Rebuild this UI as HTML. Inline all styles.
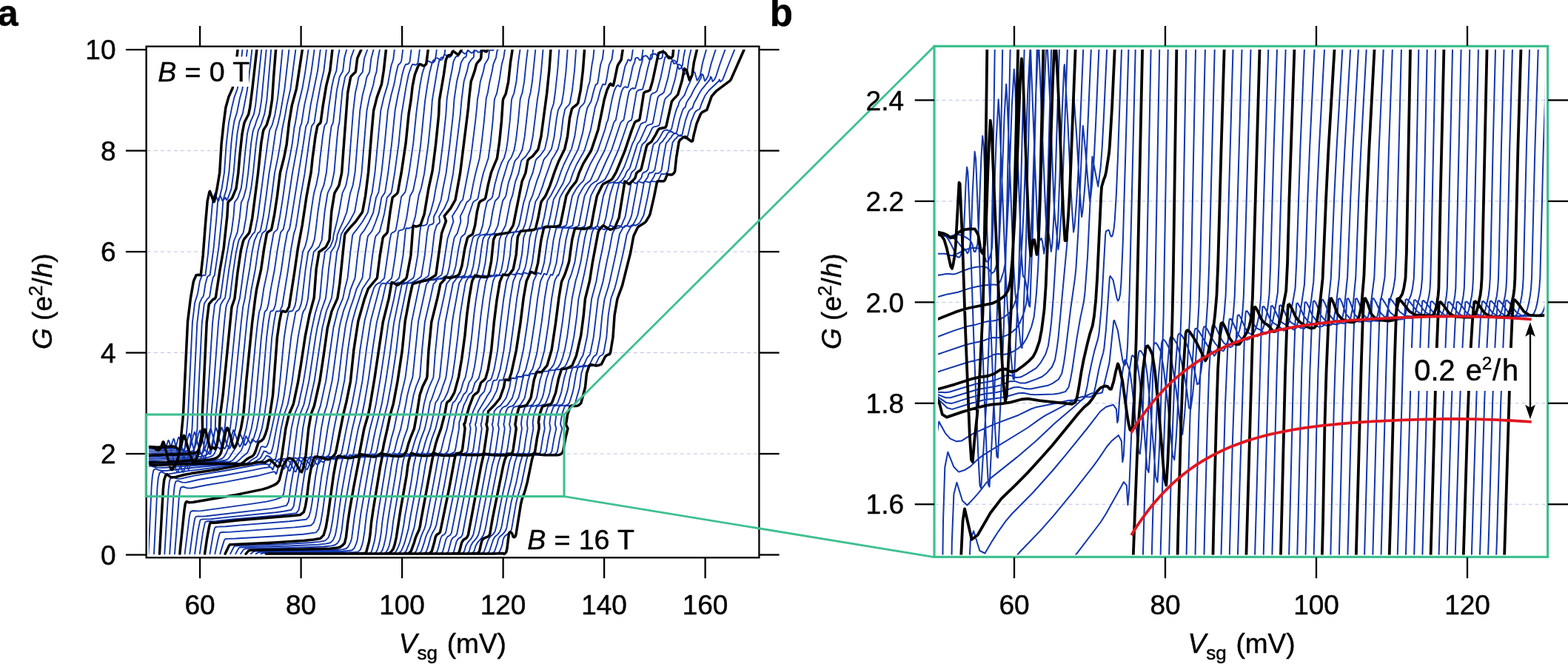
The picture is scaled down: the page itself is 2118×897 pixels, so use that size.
<!DOCTYPE html>
<html lang="en">
<head>
<meta charset="utf-8">
<title>Conductance G versus split-gate voltage Vsg</title>
<style>html,body{margin:0;padding:0;background:#fff;overflow:hidden}svg{display:block}</style>
</head>
<body>
<svg width="2118" height="897" viewBox="0 0 2118 897" font-family='"Liberation Sans", Arial, Helvetica, sans-serif' font-size="37.0" fill="#000">
<style>text{stroke:#000;stroke-width:0.45px;stroke-linejoin:round}</style>
<rect x="0" y="0" width="2118" height="897" fill="#fff"/>
<defs>
<clipPath id="ca"><rect x="200.85" y="67.10" width="821.00" height="683.90"/></clipPath>
<clipPath id="cb"><rect x="1267.00" y="67.10" width="819.20" height="682.40"/></clipPath>
</defs>
<g stroke="#b9c2e6" stroke-width="1" stroke-dasharray="5 4" fill="none">
<line x1="198.8" x2="1024" y1="613.02" y2="613.02"/>
<line x1="198.8" x2="1024" y1="476.54" y2="476.54"/>
<line x1="198.8" x2="1024" y1="340.06" y2="340.06"/>
<line x1="198.8" x2="1024" y1="203.58" y2="203.58"/>
</g>
<g clip-path="url(#ca)" fill="none" stroke-linejoin="round" stroke-linecap="round">
<path stroke="#1236ad" stroke-width="1.9" d="M191.6 603.5L208.1 604.1L212.5 605L218.1 606.8L221.8 606.7L223.8 605.2L227.3 594.8L228.2 595.4L229.4 599.5L233.6 618.5L237.4 633.4L239 637.8L240.1 638.1L245.2 626L246.9 619.7L249.2 608.1L250.9 595.2L252.5 578.9L254 559.7L259.9 435.6L263.2 408.6L266.9 397.2L269.9 379.8L272.6 372.8L274.6 371.9L277.4 371.8L281 343L287.1 272.7L288.3 266.6L290.5 261.2L294.5 271.9L295.5 271.1L299.6 254.5L303 232.9L305.7 194.4L309.1 165.5L313.4 144.1L316.4 131.6L320.7 120L323.3 105.6L327.9 63M191.6 603.5L212.5 604.1L218.2 604.7L227.8 606.4L228.9 606.2L230.3 605.2L231.3 603L232.5 598.2L234.4 592.7L235.3 593.7L243.6 627.8L246.6 637.6L247.7 637.9L252.1 625.2L255.6 609.2L257.7 594.5L259.5 578.9L266.3 436.4L269.3 411.7L269.6 409.3L272.7 402.7L274.3 400.8L275.1 398.6L277.5 383.3L280.1 374L281.6 372.6L283.6 371.7L288.7 334L292.8 290.2L294 273.7L294.9 268.9L297.6 264L300.3 271.1L301.4 270L305.8 256.1L309.4 232.5L312.3 194.6L313.8 180.4L315.6 168.6L316.4 163.9L320 152.3L324 132.4L327.3 120.8L329.6 106.7L334.4 63M191.6 603.5L204.4 603.7L210.9 604.2L217.9 603.9L224.2 604.1L230.8 604.7L232.3 605.2L233.8 606.2L235.1 606.2L236.8 605.2L238 602.5L240.3 593.3L241.4 590.6L242.5 591.9L249 617.3L252.8 630.1L254.3 633.8L255.3 634L259.1 622.4L261.8 610.8L266.5 578.9L266.9 559.7L268.7 517.7L272.7 437.3L275.6 412.3L276 410L280.1 403.7L282.3 402.1L283.2 400L285.7 384.3L287.7 375.1L289.8 371.7L295.4 334.6L299.9 291L301.4 271.1L302.7 269.1L304.7 266.8L306 270.4L307.4 268.8L312.4 255.3L315.7 232L317.6 208.7L320.4 180.8L323.3 164.6L327.8 153.4L333.9 121.7L335.8 107.7L340.8 63M191.6 606.5L215.3 606.7L226.4 605.9L235.2 605.7L240.6 606L242.6 606.5L244.9 607.5L246.7 607.5L249 606.4L250.1 605.6L253.8 591.2L255.9 585.6L256.8 588L262.1 608.4L263.8 613.2L267.4 620.8L269.1 623.4L270.1 623.4L272.1 616.6L274.8 606L279.2 578.9L279.3 560.7L287.1 436.2L289.8 413.3L290.3 411L294.7 404.9L297 403.3L297.9 401.2L303.1 364.6L309.6 325.8L312.8 312.4L315.5 291.8L316.9 273.4L321.2 267.5L325.8 254.1L328.5 233.5L330.9 208.3L334 180.8L335 176.3L338.1 165L343 154L345.1 142.6L353.7 63M191.6 609.6L217.3 609.2L238.9 608.2L244.8 608.3L250 609.1L252.1 608.9L254.7 607.7L255.9 606.7L258.5 599L261.2 587.9L262.9 583.6L263.8 586L269.3 607.4L270.9 611.6L276.2 619L277.2 619.2L280.8 604.6L284.9 578.9L285.2 561.7L287.9 531.8L295 436.5L297.6 413.6L298.2 411.3L301.9 405L303.7 403.2L304.3 401L308.9 366.7L312.9 341.5L315.9 325.5L320.4 314.7L320.9 312.4L323.7 294.1L325.8 273.5L328.9 267.2L332.6 253.7L335.3 233.1L339.1 194.1L341.1 180.3L342.1 175.8L344.7 169.2L346 164.7L350.2 153.6L352.2 142.2L353.2 135.3L360.1 63M191.6 612.7L236 610.9L255.1 610.7L257.5 610.2L260.4 608.9L261.8 607.9L265 599.1L267.9 586.5L270 581.5L270.9 584L276.4 606.1L278 609.5L279.9 609.8L281.4 611L283.3 613.4L284.3 613.6L286.9 603.2L290.7 578.9L291.2 562.6L294.5 532.8L302.9 436.8L305.1 416.2L306.1 411.6L309.1 405.1L310.3 403.1L310.8 400.8L314.7 368.7L318.8 341.2L322.3 325.3L323.3 323.1L328.4 314.7L329 312.5L332.3 294.2L334.7 273.6L336.7 267L339.4 253.3L342 232.7L346 193.6L348.5 177.6L349.2 175.4L352.5 168.9L357.5 153.1L360.4 134.8L366.5 63M191.6 618.1L228 616.3L258.5 615.2L266.1 614.4L269.1 613.7L272.6 612.2L274.4 611L277.7 603.4L279.1 599L282.2 584.9L284.4 578.9L284.9 578.9L291.2 603.3L291.7 604.1L292.5 604.5L294.6 604.4L295.6 604.9L297 606.5L298.1 605.4L300.4 596.6L303.6 578.9L305.1 562.6L308.7 532.8L318.2 437L320.8 414.1L323.9 402.8L328.6 368.4L332.6 340.9L333.5 336.4L336.2 325L337.2 322.9L341.4 316.1L343.9 313.7L344.6 311.5L348.2 293.3L361.5 193L363.9 177L364.6 174.8L367.8 168.3L371.4 154.7L374.9 134.1L376.5 120.4L381.9 63M191.6 620.5L226.3 618.8L263.8 617.5L271.9 616.6L275.2 615.8L279.1 614.3L281.1 613L283 609.9L284.4 606.7L286.3 600.1L289.6 584.8L291.9 578.3L292.3 578.2L299 602.3L300.4 603.5L301.5 603.9L303.4 606.2L304.5 605.1L306 601L310.9 578.9L313 561.7L316.3 531.9L325.9 434.5L328.3 413.9L330.9 402.6L332.8 388.8L337.1 363.8L340.4 340.9L343.7 325L348.1 315.3L351.3 312.7L352.1 310.5L355.7 292.3L359.4 266L363.5 233.9L367.1 213.4L372.4 176.9L375.3 168L378.4 154.4L384.4 120.2L390.9 63M191.6 622.8L251.5 620.1L269.1 619.7L277.8 618.7L281.4 617.9L285.7 616.4L287.9 615L289.2 613.2L291.6 608.3L293.6 601.2L297.1 584.8L299.3 577.6L299.7 577.5L302.5 586.1L305.9 599.4L306.9 601.6L309.9 605.9L310.9 604.9L312.6 600.9L313.8 596.9L318.1 578.9L320.9 560.7L333.4 434.3L335.9 413.7L337.9 402.4L339.5 391L344.9 363.7L348.5 338.6L351.2 325L353.9 316.1L354.7 314.5L358.8 311.6L359.5 309.4L363.1 291.2L366.9 265.6L371 233.6L375.3 213.2L378.5 195L381.2 174.5L385.4 154.1L387.3 142.7L392.4 120.1L399.9 63M191.6 625.1L211.6 625.1L262.6 622.9L275.7 623.2L289.9 621.9L298.3 620.1L300.8 618.9L302.5 617.2L305.5 612.3L309.8 601.8L313.4 587L315.1 581.3L315.5 580.9L318.5 588.5L321.4 598.1L323.7 603.5L324.6 602.7L326.4 599.3L327.8 595.9L332.5 578.9L336 559.7L345.7 456.7L348 436.1L349.9 422.4L350.4 420.4L351.9 416.8L352.9 412.3L356.4 389.1L361.8 364.1L365.7 336.7L369.5 315.7L370.4 313.6L374.5 310.1L375.1 307.9L378.1 292.4L382.4 265.1L386.8 233.1L391.3 212.7L394.7 194.5L397.6 171.7L398.7 167.3L402.8 142.2L408.4 119.6L412.3 96.8L417.1 63M191.6 624.9L212.4 625.9L266.2 623.7L280.1 623.9L295.1 623.1L304.3 621.7L307 620.8L309.9 617.8L317.1 606.5L319 601.6L321.9 591L323.5 585.5L323.9 585.1L326.5 590.6L329.1 597.5L331.1 601.5L331.9 600.7L333.7 597.8L335 594.7L339.6 578.9L343.2 559.7L346 534.5L352.9 456.4L355.3 435.8L357.4 422.1L358.2 420.3L359.6 419.4L360.7 417.8L362.6 411.1L365.9 389.6L370.8 364.5L374.8 337.1L378.7 315.6L379.5 313.4L382.7 309.7L384 303.8L386.5 290.1L395.1 232.9L402.3 194.2L405.4 171.3L407.2 167.1L407.6 164.8L411.2 141.9L416.4 119.2L420.6 96.4L425.2 63M191.6 624.8L208.9 626.6L213.2 626.7L269.9 624.5L284.6 624.7L300.4 624.3L310.3 623.4L313.1 622.6L315 621.2L325.9 608.5L328 603.3L330.3 595L332.3 589.2L338.5 599.4L341 596.2L342.2 593.5L346.7 578.9L350.3 559.7L353.5 534.4L360.1 456.2L362.7 435.5L365 421.8L366 420.3L368 420L369.5 418.8L371.9 412.1L375.3 390.1L379.9 365L384.2 335.2L387.8 315.5L388.5 313.3L391 309.2L392.1 303.8L409.8 193.8L413.2 170.9L414.2 168.8L415.6 166.8L416.2 164.6L419.6 141.7L429 96.1L433.3 63M191.6 624.7L209.5 627.3L214 627.5L241.4 626.3L273.6 625.3L289 625.5L310.4 625.3L316.2 625.1L319.3 624.5L322.5 622.1L326.7 617.8L334 611.8L336.3 607L340.6 593.3L345.9 597.4L348.2 594.7L349.5 592.3L353.8 578.9L357.4 559.7L361 534.4L367.2 455.9L370.1 435.2L372.6 421.5L373.8 420.2L376.4 420.6L378.2 419.8L381.2 413.2L389 365.4L393.3 335.5L397 315.4L399.2 308.8L400.2 303.8L406.2 264.7L411.5 234.9L418.5 184.3L421 170.5L422.2 168.5L424.1 166.6L424.7 164.4L428.1 141.4L433.2 113.9L437.4 95.7L441.3 63M193 748.1L196.9 654.3L197.9 639.7L199.3 631.7L202 629.2L207.7 630.7L212.2 631.5L218 631.8L222.7 631.7L240.2 630.3L290.3 627.2L319.1 626.3L330.4 626.3L333.5 626L336.2 624.3L340 621.3L346.7 617.2L348.9 613.6L352.5 604L353 603.4L355.2 603.2L357.7 604.1L358.5 604.1L360.2 603.1L361.7 600.1L363.8 593.3L367.1 578.9L374.1 546L376 534.5L378.1 516L383.8 456L387 435.3L389.8 421.6L391.1 420.3L393.6 420.5L395.4 419.6L398.5 413L399.8 406.1L405.3 365.2L409 340.4L412.5 331.9L414.8 322.8L417.1 309L420.3 285.4L423.4 264.7L424.3 260.1L427.4 248.8L430.6 232.7L432.3 214.3L435.9 184.3L438.2 170.5L439.3 168.4L441.1 166.5L441.7 164.3L444.2 143.6L448.4 116L451 104.5L454.4 95.7L456.6 77.3L459.3 63M200.5 748.1L204.7 656.3L205.9 642.6L207.4 635.3L210.1 633.3L215.5 635.3L219.9 636L225.8 635.7L241.7 633.7L298.3 628.3L327.2 626L341.5 625.6L351.3 619.2L353.1 616.6L356.3 609.7L356.8 609.5L359.5 610L362.8 612.5L363.9 612.8L364.7 612.7L365.9 611.9L366.7 610.5L369.1 601.7L373.4 578.9L377.5 559.7L381.4 546.1L383.6 534.6L386.2 516.3L393.4 454.1L398.9 424.3L399.4 422L400.5 420.3L402.4 419.7L403.8 418.3L406.4 411.7L407.9 404.8L412.6 364.5L416.3 340.4L421.7 332.4L424.8 323.4L426.7 309.6L429.5 285.5L433.1 262.5L433.6 260.2L437.7 249.1L440.9 233L445.7 184.6L447.6 170.8L448.4 168.7L449.6 166.7L450.1 164.4L454.8 122.9L458.5 104.6L459.3 102.4L463.1 96.1L465.3 77.7L469.3 63M208 748.1L212.5 658.3L213.8 645.4L215.5 638.9L218.2 637.4L223.2 639.8L227.6 640.4L249.5 636.7L290.1 631.7L335.3 625.6L349.6 625.2L356 621.2L360 615.5L360.6 615.5L363.7 616.8L367.9 620.8L369.2 621.5L370.3 621.5L371.6 620.8L372.5 618.9L375.1 607.6L379.7 578.9L383.9 559.7L388.7 546.2L391.1 534.8L394.4 516.5L402.8 454.4L408.5 424.6L409.9 420.4L412.2 417.1L414.4 410.4L416 403.6L419.9 363.8L423.7 340.3L431 333L434.7 324.1L438.6 285.5L442.3 262.6L442.8 260.3L447.1 251.6L447.9 249.3L451.3 233.3L455.5 185L457 171.1L458.2 166.8L458.5 164.5L462.4 123L466 104.7L467 102.6L471.7 96.5L474 78.1L478.1 67L479.2 63M222.3 748.1L227.5 662.4L228.8 650.6L230.5 645.1L233.4 643.9L238.9 646.6L243.6 646.9L262.4 642.6L304.6 635.8L347.8 627.8L353 627.2L359.5 626.9L362.4 627.5L363.3 629.3L364.1 628.9L365.2 626.3L367.1 623.3L370 620.8L372.1 621.3L374.7 622.4L376.3 624.1L378.8 627.6L382.4 633.2L383.7 633.5L385.2 631.3L386.2 628.3L389 613.9L393.6 578.9L397.8 559.7L403.3 546.3L409.7 516.7L413.5 493.7L419.3 454.7L421.4 443.3L425.9 422.8L432.1 402.5L435.6 363.3L439 340.4L446.2 333.1L449.8 324.2L450.6 317.3L455.1 299.5L458.1 286L462.5 260.9L466.6 252.1L467.4 249.9L470.6 233.9L477 151L479.9 125.8L483 112.1L484.2 105.2L485.2 103.1L489.8 97.1L492.1 78.7L496.1 67.5L497.3 63M229.2 748.1L234.6 666.8L235.9 655.6L237.4 650.4L240.3 649.3L245.9 651.6L250.8 651.9L269.4 647.8L305.8 641.8L341.9 635.1L353.4 632.6L364.3 631L367 631.8L368 634.6L369 633.8L370.5 628.8L371.6 626L373 623.8L375.8 620.8L376.3 620.3L377 620.2L381.5 621.4L383.3 623.3L386.1 627.5L390.2 635.5L391.6 636L393.1 632.7L394.1 629.3L397 614.4L401.4 578.9L405.3 559.7L410.5 546.3L417.4 514.4L426.4 454.7L428.4 443.3L433.7 420.5L440 402.6L442.1 384.2L444 363.5L447.1 340.6L452.2 332.6L454.9 323.6L455.8 316.8L459.4 308.1L463.4 299.6L468.4 286.5L473 261.3L476.7 250.2L479.7 231.9L486.3 149L489.7 128.4L493.3 114.8L495 105.7L495.8 103.5L499.2 97.2L501.4 78.8L504.5 67.6L505.5 63M236 748.1L241.7 673.6L243 663.2L244.3 658.6L247.2 657.5L253 659.4L258 659.5L276.5 655.7L305.7 650.9L347.9 642.8L369.1 637.3L371.7 637.8L372.7 640.4L373.9 638.6L375.8 631.3L377.2 627.3L380 622.5L382.6 619.8L383.3 619.6L386 619.9L388.2 620.6L390.3 622.8L393.3 627.5L398 636.6L399.6 637.3L400.9 633.8L401.9 630.3L405 614.8L409.1 578.9L412.7 559.7L416.3 550.8L417.7 546.3L424.7 514.3L435.3 443.3L440.8 420.5L447.9 402.7L450.4 384.4L452.4 363.7L455.1 340.7L458.2 332.2L461 316.2L466.1 307.8L471.8 299.7L478.7 286.9L479.4 284.6L483.4 261.8L486 250.5L488.4 234.4L495.5 149.3L499.2 131.1L504.1 115.3L506.3 103.9L508.5 97.3L510.7 79L513.7 63M249.6 748.1L255.6 699.6L256.7 693.3L257.8 690.9L260.6 690L266.7 690.4L271.7 690.1L336.8 681.1L360 677.6L370.9 675.1L375.3 673.7L380.5 671.7L383.1 667.2L385.9 649.5L388.2 638L389.9 631.3L393.3 622.8L396.2 618.9L398.1 618.5L402.4 619.6L404.8 621.6L410.6 629.3L413.2 633.7L414.8 634.3L416.4 631.6L417.5 628.6L421 614.6L425.4 578.9L428.9 559.7L432.8 548.4L440.3 514.1L450.4 442.7L456.1 419.9L463.3 402.6L465.6 391.1L469.6 375.4L473 343.1L476.1 318.2L477 316.1L481.6 310.4L489.1 300.2L496.6 287.4L497.3 285.2L500.6 266.8L502.6 260.2L506.5 232.6L514.3 149.5L518.5 131.2L524 113.1L528.1 90.2L528.6 88L531.2 80.5L533.3 63M256.3 748.1L260.6 716L262.3 705.3L263.4 700.2L264.4 698.2L267.2 697.4L273.3 697.6L278.3 697.3L366 687.1L377 685.2L387.1 682.8L389.9 677.5L393 655.5L395.3 642.2L397 634.1L400.5 623.1L402.9 619.2L403.4 618.5L404.1 618.1L405.3 618.1L409.8 619.1L412.3 620.8L416 624.3L418.3 627.1L420.6 630.5L422.2 630.9L423.9 628.4L425.2 625.9L429 614L430 608.6L434 578.9L437.6 559.7L441.3 548.3L448.7 513.9L458.1 444.5L459.4 437.6L464.2 419.3L470.8 402.2L473.5 390.8L479.6 375.4L483.2 343L486.6 318.6L487.7 316.5L492 311.2L498 300.6L504.1 287.5L508 266.8L511.1 260.4L511.6 258.2L515.4 232.8L519.7 193.4L523.9 149.4L528.3 128.7L532.6 112.8L534.6 101.3L537.3 89.8L538.1 87.6L539.2 86.5L540.3 85.8L541.4 84.1L542.3 82L544.6 63M263.1 748.1L267.3 717.5L270.1 703.9L271 702.1L273.8 701.4L284.9 701.2L302.9 699.1L372.1 692.2L383.2 690.7L393.7 688.8L396.7 683.8L402.4 646.3L404.2 636.8L406.3 628L407.7 623.3L410.1 618.9L410.6 618.1L411.3 617.7L412.5 617.6L417.2 618.7L419.8 620L423.7 622.8L426 624.8L428 627.3L429.6 627.4L431.5 625.3L434.5 620L437 613.3L438.1 608.3L442.6 578.9L446.3 559.7L449.1 550.5L450.8 543.6L457.1 513.6L461.8 474.1L466.2 444L467.4 437L472.3 418.7L478.2 401.9L481.5 390.5L489.5 375.5L493.3 343L496.3 322.1L497 318.9L502.5 312L507 301L511.7 287.6L515.4 266.8L519.6 260.7L520.3 258.5L524.3 233L528.9 195.8L533.6 149.3L537.5 128.5L541.1 112.4L543.2 100.9L545.8 91.7L547.7 87.3L549.1 86.7L550.7 86.8L552.2 85.5L553.5 83.5L556 63M269.8 748.1L274.1 718.7L276.7 706.6L277.6 704.9L280.3 704.2L291.5 703.9L314.4 701.5L378.1 695.9L400.3 693.1L403.5 688.7L405.5 678.5L411.3 639.6L413.5 629L415 623.6L417.3 618.5L417.9 617.7L418.5 617.3L419.8 617.2L424.6 618.2L431.4 621.2L435.4 624.1L437 624L439.1 622.2L442.4 618.2L445.1 612.7L446.2 608L451.2 578.9L455.1 559.7L459.3 543.5L465.4 513.4L469.8 473.7L474.3 443.5L475.9 434.2L480.4 418.1L489.5 390.2L499.5 375.5L503.1 345.2L506.7 321.9L507.5 319.2L512.9 312.8L519.3 287.7L522.8 266.8L528.1 261L528.9 258.8L533.2 233.2L538.6 193.6L542.5 153.9L548.6 116.7L551.9 100.5L555.9 89.1L557.2 87L559 87L561.1 87.8L563 86.9L564.6 84.9L567.4 63M283.5 748.1L287.7 723.4L289.2 716.8L290 713.6L290.8 712.2L293.6 711.6L304.8 711.2L322.5 709.6L390.9 704.2L413.5 701.7L417 698.4L419.4 691L421.5 679.1L426.4 642.2L430.2 623.4L432.4 617.9L432.9 617L433.6 616.6L434.9 616.5L451 620.3L452.6 619.9L455.1 618.6L458.6 616.1L459.8 614.6L461.2 612.1L462.3 607.8L467.9 578.9L476 543.2L481.4 514.9L486.4 472.3L492.6 432.7L500.7 402.9L505.1 389L507.9 384.7L511.7 382.2L512.4 382.6L519.1 375.8L527 321.5L527.8 319.2L527.9 316.7L529.4 314.7L532.8 313L534.6 311.1L537.2 297L542.1 265.8L547.1 259.7L547.9 257.5L552.7 232.1L558.3 193.1L562.3 152.8L563.5 143.4L567.3 115.6L570.4 99.1L574.9 85.7L576.5 83.7L577.4 83.5L577.8 82.4L580.1 83L583.2 85.1L585.5 84.3L587.3 82.3L588.8 75.3L590.3 63M290.4 748.1L294.5 728.7L295.9 723.3L296.7 720.7L297.4 719.5L300.2 719L311.5 718.6L397.7 712.4L409 711.2L420.2 709.7L423.7 706.2L426.4 698.1L428.8 684.4L434.5 642.1L438.2 622.9L440.3 617.8L440.8 616.8L441.5 616.4L442.7 616.3L451.3 618.5L459.2 619.6L463.6 618.1L467 615.9L468.1 614.5L469.3 612.2L470.3 607.9L475.9 578.9L480.6 559.7L483.8 545.4L489.5 514.4L495 471.3L500.2 436.6L501.2 431.8L512.8 388.1L515 383.6L516.9 382.8L519.1 382.7L520.4 383.5L522.5 382L528.8 376.1L529.5 373.8L534 345.1L536.9 321.1L537.5 318.8L537.9 313.9L538.9 311.7L543.6 310.4L545.8 308.7L549.2 294.5L553.9 264.7L557.7 258.2L558.4 255.9L562.5 235.7L568.1 196.2L574.1 136.3L577.3 114.8L580.3 98.1L583.7 85.1L584.6 82.7L586.2 80.7L588 80.4L589 78.1L591.3 78.7L595 81.3L597.1 80.3L598.8 78.3L600.8 71.2L601.8 63M297.3 748.1L302.5 731.1L303.3 729.2L304.1 728.3L306.9 727.9L318.3 727.5L370.2 724.5L409.4 721.7L426.8 719.4L430.4 715.2L433.3 705.5L436 689.7L440 659.2L442.5 642L444.8 628.9L446.2 622.5L448.1 617.6L448.6 616.5L449.3 616.1L450.6 616L459.5 618.5L463.3 619L467.3 618.9L473.8 616.8L475.4 615.7L476.4 614.4L477.4 612.3L483.9 578.9L489.1 559.7L492.5 542.8L497.9 511.4L503.6 470.2L508.8 435.8L516.8 404L520.5 387.2L522.1 382.5L524 382.4L526.5 383.1L528.5 384.4L530.7 383.1L538.5 376.3L539.5 374L544.5 345.1L547.8 311.1L548.4 308.7L549.3 308.2L552 308.5L554.5 307.7L557 306.2L561.1 291.9L565.7 263.6L568.9 254.3L573.1 234.5L578.8 192.1L582.4 155.8L583.8 135.7L590.2 97.1L592.9 83.2L594.3 79.7L596 77.8L598.7 77.3L600.1 73.9L602.5 74.4L606.8 77.6L608.7 76.3L610.4 74.2L612.1 69.5L612.8 67.1L613.3 63M311.2 748.1L315.7 739.3L316.5 738.2L317.5 737.6L380.5 735.2L420.1 733L431.7 731.9L439.3 730.4L443.5 726.4L446.5 717.9L449.3 702.6L456 653.5L460.8 627.1L463.8 616.3L464.6 615.3L465.8 615.3L474.8 617.8L482.7 618L487.7 616.8L489.5 616.1L492.1 613.9L493.1 612.2L499.8 578.9L504.9 559.7L508 545.2L513.8 511.2L519.6 472.3L524.7 435.8L532.1 403.8L536.2 382L537 381.7L539.3 381.8L545 383.9L547.7 382.9L555.8 377.3L558.2 375.4L559.3 373.2L564.3 344.7L567 315.4L568.4 305.7L569.6 304.7L571.9 304.8L574.4 304.1L576.5 303.1L577.4 300.7L578.7 293.6L580.7 289L582.2 284.3L586 269.9L588.5 255.3L593.5 231.2L598.1 194.6L602.3 155L603.7 133.1L607.7 108.8L610.6 94.3L612.2 84.6L612.9 82.2L615.1 77.6L616.4 76.2L619.1 75.8L620.2 73.6L620.4 71.8L621.1 69.4L623.6 69.5L627.8 72.8L629.6 71.7L631.1 69.5L632.2 67.2L633.7 63M318.2 748.1L322.2 741L323.1 740.1L324.2 739.5L390.8 737.5L429.1 735.6L439.8 734.6L446.1 733.2L449.8 729.9L452.8 723.2L455.3 710.2L458.7 683.9L461.5 665.1L467.4 632.2L471.1 616.3L472 614.8L473.2 614.7L481.8 617.2L489.9 617.6L492 617.4L496.6 615.8L499.4 613.5L500.6 611.9L501.7 607.9L504.7 592.2L507.6 578.9L515.8 545.3L521.3 513.9L527.1 475.3L532 436.6L543.2 382.5L544.8 382L547.5 381.7L553.5 382.6L556.4 381.6L561.9 378.7L568.2 374.3L569.2 372.1L573.8 344.4L576.9 315.3L578.9 305.7L580 304.2L584.9 302.4L585.8 300.1L585.8 293L590.5 284L595.7 270L598.2 255.5L602.6 233.9L607.5 195.2L612 155.2L613.6 133.4L617.2 109.3L620.8 94.9L622.6 85.3L623.6 83L626.3 78.5L627.1 77.6L628.9 77.3L630.1 75.1L630.4 71.5L631 69.2L633.5 68.9L637 71.7L638.7 71.1L641.4 66.6L642.6 63M325.2 748.1L328.7 742.8L331 741.4L401 739.8L438 738.3L447.8 737.4L452.9 736L456.1 733.5L459.1 728.4L461.4 717.7L464.1 695.5L467 676.8L474 637.3L478.4 616.3L479.3 614.3L480.6 614.2L488.8 616.5L497.1 617.3L499.3 617.1L503.8 615.5L506.7 613.2L508.2 611.7L509.4 607.8L512.4 592.2L519.8 559.7L523.5 545.4L528.8 516.7L535.3 473.5L539.7 435L550.2 383.1L555.6 381.6L562 381.2L568.2 379.2L571 377.8L578.2 373.2L579.1 371L583.3 344L586.7 315.2L587.3 312.8L589.4 305.7L590.4 303.8L591.7 302.3L593.3 301.7L594.2 299.4L593 292.4L600.1 281.5L605.3 270.1L612.1 234.2L621.7 155.4L623.6 133.8L626.7 109.7L631 95.6L633.1 86L634.3 83.8L637.4 79.5L637.9 79L638.7 78.9L639.9 76.7L640.3 71.3L640.9 69L643.4 68.3L646.1 70.7L647.9 70.4L650.6 66L651.5 63M338.9 748.1L342.1 745.4L344.7 744.5L438.4 743.3L455.1 742.7L463.4 742.1L467.7 741L470.6 738.2L473.6 732.1L475.1 727.2L478.9 697.4L486.8 651L493.5 616.2L494.4 613.7L495.7 613.6L503.9 615.8L513.6 616.9L515.7 616.7L519.5 615L524.1 611.1L525.3 607.3L528.6 592.2L532.4 578.9L536.2 559.7L539.8 545.5L541.9 533.7L547.5 510.1L552.1 474.4L556.2 433.9L566.7 383.6L568.1 382.1L568 381.5L570.8 380.6L577.5 379.4L587.5 376.7L589.7 375.8L596.2 371.8L597 369.5L598.8 360L604.6 322L612.5 299.1L610.9 292.1L617.8 281.3L622.5 272.3L623.2 272L625.2 269.4L636 213.2L642.2 163.1L644.2 144.1L644.9 134.5L646.7 125.1L648.8 110.2L652.9 96.2L654.9 86.7L659 80.2L659.9 78L660.7 70.8L661.2 68.5L663.1 67.1L664.7 68L666 68.1L668 64.8L668.5 63M345.7 748.1L349 746.3L351.6 745.7L430.9 745.1L463.4 744.5L470.9 744L475.7 743.2L478.6 740.4L481.3 734.1L482.8 729L487.4 693.6L498.8 628L501.1 616.2L502.2 613.6L503.4 613.5L512 615.8L522.9 616.7L524.9 616.5L526.7 615.6L529.8 613.2L532.3 610.6L533.5 607L535.3 599.1L537.1 592.2L541.4 578.9L548.2 545.5L550.3 533.7L553.3 521.9L557.1 510.4L557.6 508L565.1 434.3L576.1 383.6L579 380.6L578.7 379.4L581.2 378.6L587.9 378.1L597.7 375.3L599.2 374.6L604.2 371.4L605 369.1L607.2 359.7L610.8 336L613.5 321.8L614.5 319.6L617.5 315.7L622.4 299.4L621.7 292.4L627.1 281.3L629.9 274.4L631.2 272.3L632.6 271.6L635.4 268.7L639.2 248.6L642.3 234.5L647.8 213.4L650.7 192L653.9 163.5L656.8 132.6L658.8 125.6L661.2 111.4L664.7 96.1L666.4 86.7L670.1 77.7L671.5 68.3L672.9 66.5L675 66.4L676.3 64.2L676.6 63M352.4 748.1L355.9 747.2L358.5 746.9L471.7 746.3L478.5 746L483.7 745.4L486.7 742.6L489.1 736.1L490.4 730.9L492.3 718.9L495.1 694.8L506.4 628.1L508.8 616.1L509.9 613.5L511.1 613.4L516.5 615L520.1 615.7L529 616.5L532.2 616.6L534 616.3L536.6 614.5L540.6 610.2L545.6 592.2L550.4 578.9L558.6 533.7L562.1 522L566.8 510.6L567.3 508.3L570.1 472.7L573.9 434.7L581.6 401.8L585.5 383.6L589.8 379.1L589.5 377.3L591.5 376.6L598.3 376.8L608.7 373.5L612.2 371L615.6 359.4L619.4 335.8L622.5 321.6L623.8 319.6L628 316.1L631.4 304.4L632.4 299.7L632.6 292.7L638.6 274.3L639.9 272.2L644.4 269.5L645.6 268.1L649.4 248.6L652.7 234.5L659.6 213.7L662.6 192.3L665.6 163.9L667.8 135.4L668.3 133L671 126.2L671.5 123.8L674.6 107.9L677.8 86.6L680.4 77.4L681.8 68L682.7 65.9L683.5 64.7L683.9 64.7L684.7 63M365.9 748.1L492.6 748L498.3 747.6L501 746.5L502.2 744.2L505.9 730.6L507.4 721.1L508.9 706L511.5 688.4L521.1 630.1L524 615.9L525.2 613.2L526.4 613.2L531.9 614.9L535.8 615.6L546 616.4L549.2 616.2L550.9 615.8L552 614.9L554.5 612.4L556.3 609.8L559.3 598.9L561.5 592.2L566.7 578.9L570.5 559.7L572.8 545.5L575.8 533.9L579.8 522.3L585 510.9L585.5 508.6L588 475.3L592.2 434.9L599.5 401.9L603.4 383.1L608.6 376.9L608.2 375L609.8 374.1L614.6 375.1L617.9 375.3L626.3 372.7L628.1 371L631.6 359.3L635.4 335.6L638.7 321.5L640.1 319.4L642.6 317.8L645.4 317.3L648.2 315.9L649.1 313.7L652 304.4L655 285.4L657.7 273.7L658.9 271.6L663.6 268.3L665 266.3L668.7 247.9L673.2 231.5L677.4 220L681 213.4L683.5 204.1L685.5 192.3L688.7 163.8L691 135.2L691.5 132.9L694.3 126L697.5 110L700.1 83.9L703.1 63M372.7 748.1L499.2 748L504.9 747.6L507.8 746.3L509.4 743.5L511 738.7L513.3 729.3L514.8 720L516.3 705.7L518.9 688.4L526.7 642.3L528.5 630.1L529.9 622.6L531.6 615.8L532.7 613.1L534 613L539.4 614.8L543.4 615.5L550 616.1L556.9 616L558.6 615.6L559.8 614.7L562.2 612.1L563.8 609.7L566.7 598.9L568.8 592.2L573.9 578.9L578.1 559.7L581 543.1L582.3 541L583.2 538.8L588.8 522.5L593.5 511L594 508.7L601.6 434.7L611.9 382.6L616.6 376.3L616.3 374.9L617.8 373.5L623.8 374.9L627.2 375.1L634.4 373L636.1 371.2L639.3 359.5L642.9 335.7L645.1 323.8L645.9 321.5L647.2 319.4L649.4 317.6L655.1 316.7L658 315.5L659 313.2L662.4 304L665.6 285L668.3 273.2L669.2 271L673 267.3L674.2 265.2L677.8 247.2L686.3 219.2L687.5 217L690.6 212.8L694.2 203.7L696.1 194.3L697.5 184.8L700 163.3L702.6 134.7L703.1 132.3L705.5 125.4L708.2 109.7L710.8 83.5L713.4 63M379.4 748.1L505.8 748L511.6 747.6L514.6 746.2L516.6 742.9L518.3 737.8L520.6 728.1L522.1 718.9L523.7 705.4L526.3 688.4L534.2 642.3L535.9 630.1L537.3 622.6L539.1 615.7L540.3 612.9L541.5 612.8L547 614.7L551 615.5L557.7 615.9L564.7 615.8L566.4 615.4L567.7 614.4L571.3 609.6L574.1 598.9L576.2 592.2L581.2 578.9L585.6 559.7L588 545.4L588.8 543.1L590.5 541.2L591.7 539L595.6 529.8L597.8 522.7L602 511.1L602.9 506.4L605.5 484.8L611 434.6L612.5 425L620.4 382.2L624.5 375.6L624.3 374.7L625.7 373L633.1 374.7L636.5 374.9L642.4 373.3L644 371.5L646.4 362L647.8 354.9L650.3 335.8L652.3 323.9L653.1 321.5L654.4 319.3L656.3 317.5L664.7 316.1L667.8 315L672.1 305.9L672.8 303.6L676.2 284.5L678.8 272.6L679.6 270.4L682.4 266.4L683.4 264.2L686.9 246.6L690.9 234.9L695.1 218.4L696.5 216.2L700.2 212.3L704.9 203.4L705.6 201.1L708.7 184.4L714.3 134.1L716.7 124.7L719 109.5L723.7 63M386.2 748.1L512.5 748L518.2 747.6L521.4 746L523.8 742.2L525.7 736.8L528 726.8L529.5 717.9L531 705.1L541.7 642.3L543.3 630.1L544.7 622.5L546.6 615.5L547.9 612.7L549.1 612.7L554.6 614.7L558.7 615.4L569.3 615.9L572.4 615.6L574.2 615.1L575.6 614.1L578.7 609.6L581.4 598.9L583.5 592.2L588.4 578.9L593.1 559.7L595.7 545.3L596.5 543.1L598.7 541.3L600.2 539.2L604.7 530L610.5 511.2L611.5 506.4L614.6 484.8L618.2 456L621.6 424.8L625.1 403.2L628.9 381.7L629.9 379.4L632.5 374.9L632.4 374.5L633.6 372.5L642.3 374.5L645.8 374.7L650.5 373.6L651.9 371.8L655.5 355.1L659.4 323.9L661.5 319.3L663.1 317.3L674.4 315.4L677.6 314.6L682.4 305.5L683.2 303.2L689.3 272.1L692.5 263.1L696 245.9L700.4 234.2L704 217.6L705.5 215.5L709.8 211.7L715.6 203L716.5 200.7L719.8 184L726 133.6L728.1 121.7L730.9 97.2L733.9 63M399.7 748.1L519.8 748.1L531.5 747.6L535.1 744.9L538.2 738.3L540.2 733L543.1 720.8L545.4 708.5L547.2 696.1L555.3 652.3L559 627.5L561.9 615.3L563.1 612.6L564.4 612.5L569.8 614.6L573.9 615.3L584.9 615.7L588.2 615.4L590.1 614.9L591.8 613.7L595.6 609.6L599.8 592.2L603.8 578.9L611 546.3L611.9 544L614.1 542.2L615.7 540L619.2 533.1L620.6 530.9L621.2 530.5L622.3 528.2L625.7 516.3L628.7 509.4L631.1 497.4L633.5 482.9L637 456.2L640.3 424.6L642.8 405.3L646.9 381.1L647.6 378.7L651 371.8L659.3 373.5L662.8 373.8L666 373L667.4 371L668.9 366.3L671.4 354.3L672.4 347L674.5 325.2L674.9 322.8L676.9 318.1L678.3 316L695.9 313.2L697.4 311.1L700.9 304.2L702.6 297L707.3 273.5L710.3 264.1L715.1 244.9L719.7 233.2L723.7 216.4L725.2 214.3L729.4 210.5L735.4 202.3L736.3 200L740 183.1L742.8 161.3L744.7 149.2L747.8 140L749.9 125.5L753.3 94L755.6 63M406.5 748.1L526.5 748.1L538.3 747.6L541.7 744.8L544.7 738.2L546.6 732.9L551.8 713.9L554.7 696.2L563 652.3L566.8 627.6L569.7 615.3L570.8 612.6L572 612.5L577.5 614.6L581.6 615.3L588.5 615.6L596.3 615.4L598.4 614.9L602.9 611.6L605 609.6L605.9 606.3L608.7 592.2L611.9 578.9L613.7 566.3L614.6 564.2L616.4 555.7L618.6 547.3L619.5 544.9L621.3 542.9L622.7 540.7L625.9 533.7L627.5 531.6L628.8 530.7L630.2 528.5L633.6 516.5L636.6 512.2L637.7 509.9L641 495.4L644.4 473.5L649.7 424.7L652.6 402.8L656.3 380.9L657.1 378.6L660.4 371.6L670.6 373.1L673.5 372.1L675 370L676.1 367.7L677.1 365.4L679.9 350.9L683.1 321.6L686.6 314.7L704.4 312.3L706.1 310.4L709 303.3L709.7 300.9L715.3 273.1L719.4 263.8L725.1 244.7L729.5 232.8L734.4 216L735.8 213.9L739.4 209.8L744.5 202L745.3 199.6L748.5 185.1L751.7 160.7L753.9 148.6L758.7 139.8L761.2 125.2L764.5 96L767 63M413.2 748.1L533.3 748.1L545 747.6L548.4 744.8L553.1 732.8L559.1 713.9L560.3 708.6L562.3 696.2L570.6 652.3L574.7 627.6L577.4 615.3L578.5 612.6L579.7 612.5L585.1 614.6L589.2 615.3L604.4 615.4L606.6 614.8L608.4 613.5L613.1 611L614.3 609.7L615.3 606.3L620 578.9L620.3 569.6L621.4 567.7L622.8 561L626.3 548.2L627.2 545.9L629.6 541.4L632.6 534.3L634.3 532.2L636.3 530.9L638 528.8L641.6 516.8L645.4 512.7L646.8 510.5L649.9 498.4L654 473.9L658 434.6L662 402.8L665.8 380.8L666.6 378.4L669.8 371.3L678.4 372.4L681 371.2L685.2 364.5L688.9 345L690.9 322.9L691.4 320.5L694.9 313.5L713 311.4L714.7 309.6L717.1 302.5L718.9 295.2L723.3 272.6L727.4 265.9L728.4 263.5L732.9 251.6L735.1 244.4L745.2 215.7L749.4 209L753.7 201.6L757.6 184.6L760.6 160.1L763.1 147.9L764.5 145.7L768.4 141.8L769.7 139.6L772.9 122.5L776 95.5L778.4 63M426.7 748.1L547.1 748.1L558.8 747.6L562.1 744.8L566.4 732.7L568.4 725.8L570.4 720.6L573.4 714.1L575 708.8L577.1 696.4L585.7 652.4L591.2 622.2L592.6 615.3L593.7 612.6L594.9 612.5L601.3 614.5L605.8 615.1L621.2 615.3L623.5 614.8L626.8 612.7L628.8 612L630.1 611.2L631.3 609.8L632.1 606.3L635.7 578.9L634.3 572.9L635.6 571.1L637 563.7L638.8 556.3L648.5 535L654.1 528.9L657.6 516.6L659.5 514.6L662.5 513.3L663.9 511.1L667.5 498.8L672 474.1L676.4 434.3L680.2 404.5L684.2 380.4L688.6 370.2L691.8 370.4L695.3 371.2L697.2 369.6L701.3 362.7L705.1 343L707.3 321.2L707.9 318.8L711.1 311L729.4 309.2L731.6 307.8L735.2 293L739.5 270.8L744.1 264L751 250.5L753 245.7L758 231.1L761.9 221.5L772.1 200.8L776.4 183.6L780 158.8L782.8 146.5L784.2 144.3L788.2 140.3L789.6 138.1L794.5 116.6L796.5 110.7L799.8 85.9L801.3 78.6L802.8 63M433.4 748.1L554.2 748.1L565.9 747.6L569.1 744.8L573.1 732.6L575 725.7L577.1 720.5L580.4 714.2L582.2 708.9L593.2 652.5L598.7 622.3L600.1 615.3L601.2 612.6L602.4 612.5L610 614.4L614.7 615L629.9 615.2L632.2 614.7L637 612L638 611.1L638.8 609.7L639.5 606.3L643.3 578.9L641.9 572.9L643 571L645.7 556L656.8 537.6L657.8 535.2L662.4 528.6L663.9 523.7L665.7 516.3L667 514L670.8 513.4L672 511.1L675.7 498.8L680.4 473.9L689.2 403.8L693.2 380.1L698 369.2L701 369.7L704.4 370.6L706 369L709.4 361.8L711 354.4L713 341.9L715.5 320.6L719 309.6L722.4 309.1L733.6 308.6L737.2 308L739.9 306.7L743.4 291.8L747.8 269.4L760.7 247.3L764.9 235.1L769.9 223L780.4 202.9L781.3 200.4L786.7 180.7L787.8 175.7L791.1 155.7L793.3 145.8L798.5 136.8L801.8 123.2L804.1 115.8L804.9 113.9L806.1 113.8L807.1 112.7L808.3 106.5L810.9 89L811.4 86.5L813.9 79.3L815.8 63M440.1 748.1L561.3 748.1L573 747.6L576.1 744.8L578.4 737.9L581.7 725.6L583.8 720.5L587.4 714.3L589.4 709.1L600.7 652.6L606.2 622.3L607.6 615.3L608.7 612.6L609.9 612.5L618.6 614.3L623.6 614.9L638.6 615L640.8 614.7L643.6 613.1L645.1 612.1L645.9 611.1L646.4 609.7L650.8 578.9L649.4 572.9L650.4 570.9L652.7 555.8L659.7 547L666 537.8L667 535.4L670.6 528.4L672.2 523.4L673.7 515.9L674.6 513.5L679.1 513.6L680.1 511.2L683.2 501.3L688.9 473.7L694.1 435.8L698.2 403L702.2 379.8L707.4 368.3L710.3 368.9L713.5 370.1L714.8 368.3L717.4 361L719.1 353.5L723.3 322.6L724.3 317.6L726.9 308.2L730.1 307.7L741.5 307.5L745.1 306.8L748.1 305.6L751.5 290.6L756 268L757 265.6L762.9 255.6L769.3 246.5L770.4 244.1L773.7 234.2L778.9 222L788.6 204.9L789.7 202.5L797.9 175.2L803.8 145.1L807.4 135.5L810.8 122.4L813.7 115.1L814.8 113.5L816.5 114.5L817.7 114.2L819.3 107.3L822.3 89.7L823 87.2L826.5 80L828.8 63M453.7 748.1L575.9 748.1L587.6 747.6L590.6 745.1L592.4 739L595.3 727.1L597.2 723.6L600.5 721.7L602.1 719.4L614.4 658.8L621.4 620.9L622.8 615L623.8 612.7L625 612.6L634.4 614.3L639.7 614.8L654.9 614.9L657 614.6L658.5 614L660.8 612.1L661.4 611.1L666.2 578.9L664.7 572.9L665.5 570.8L667.7 555.4L671.4 551L673.8 549.2L674.6 549L676.8 547L683.6 537.8L688.3 523.2L689.5 515.6L690.7 511L693.1 510.8L696.2 511.5L700.4 501.7L701.1 499.2L707 472.3L712.6 435L716.9 401.7L720.3 381.8L720.9 379.2L725.9 368.5L728 369.1L730.5 370.3L731.6 367.7L735 355.1L739.3 324.4L743.3 307.2L746.6 306.8L758.1 306.8L761.6 305.9L764.8 304.7L765.6 302.2L772.6 266.5L773.4 264L778.9 254.4L782.4 249.9L786.5 245.6L787.2 245.3L788.6 243L792.4 233.1L797.8 220.7L807.3 203.9L817.4 174.3L819.2 166.7L821.2 162.1L826.7 134.1L829.8 122.5L831.6 118.6L833 116.3L834.8 115L836.5 116.7L838.3 116.7L840.2 109.1L844.1 90.8L844.9 88.3L847.4 83.5L848 80.9L849.3 80.5L849.8 80.8L850.8 82.2L851.5 82.1L853 79.9L855.4 63M460.5 748.1L583.4 748.1L595.1 747.6L598 745.4L602.4 728.6L604.4 725.1L607.9 723L609.7 720.3L621.9 658.8L629 621L630.3 615.1L631.3 612.8L632.6 612.7L641.6 614.3L646.9 614.8L662.4 614.9L664.5 614.6L666 614L668.4 612.1L669.1 611.1L669.4 609.7L674 578.9L672.5 572.9L673.3 570.7L674.2 563L675.7 555.3L678.8 550.7L681.6 549.1L683.2 548.8L685.5 546.9L692 537.6L695.4 525.9L697.6 514.6L699.2 509L701.7 508.8L704.9 509.3L710.1 499.7L714.9 480.3L716.7 471.1L722.2 434.6L726.1 403.6L729.8 381.5L730.5 379L734.9 369.6L738.4 371L739.7 367.8L743.3 355.1L747.6 324.1L750.9 309.8L751.8 307.5L755.2 307.3L763 307.5L766.7 307.2L770.3 306.2L773.3 304.8L781 266.4L781.8 263.9L787.2 254.2L790.5 249.5L795.2 245.6L796.4 244.9L798.1 242.7L807.8 220.4L816.7 203.3L826.6 174L828.8 166.4L830 164.1L831.8 162.1L837.1 134L839.8 123.3L841.1 120.4L842.7 118.2L845 117L846.3 118.3L848.2 117.9L851.5 105.2L854.4 91.3L855.1 88.8L857.3 83.8L858.3 78.6L859.4 78.1L861 77.9L862 78.4L863.9 81.3L865.4 81.1L866.9 78.9L869.1 63M467.3 748.1L590.9 748.1L602.6 747.6L605.4 745.7L609.5 730.1L611.6 726.5L615.3 724.2L617.2 721.3L636.5 621L637.9 615.2L638.9 612.9L640.1 612.8L648.8 614.4L654 614.9L669.9 614.9L672 614.6L673.5 614L676.1 612.1L676.8 611.1L677.7 606.3L681.8 578.9L680.3 572.9L681 570.7L682 562.9L683.7 555.2L686.3 550.4L689.4 549.1L691.7 548.6L694.2 546.9L700.4 537.3L703.3 526.1L705.5 514.1L707.7 506.9L710.4 506.7L713.7 507.2L719.7 497.7L724.8 478.7L726 472.5L731.8 434.2L735.7 403L739.4 381.2L740.2 378.7L743.9 370.8L746.3 371.7L747.8 367.9L751.6 355.1L756 323.9L759.3 310.1L760.3 307.8L771.7 308.1L775.4 307.6L778.9 306.5L781.7 305L789.3 266.3L790.1 263.8L795.4 253.9L798.6 249.2L803.8 245.5L805.7 244.6L807.7 242.4L811.3 235L818.9 217.5L826.1 202.6L838.3 166L840 163.9L842.3 162.2L843 159.7L847.6 133.8L849.1 126.1L850.1 123.1L852.4 120.1L855.2 119L856 119.9L858.2 119.1L861.5 106.3L864.7 91.8L867.1 84.2L868.7 76.3L870.3 75.6L872.7 75.3L874.2 76.1L877.1 80.4L879.3 80.1L880.8 78L882.7 63M474.2 748.1L598.4 748.1L610.1 747.6L612.8 746.1L616.6 731.6L618.8 727.9L622.8 725.4L624.7 722.2L642.5 628.5L645.5 615.3L646.5 613L647.7 612.9L656 614.4L661.2 614.9L677.4 614.9L679.5 614.6L681 614L683.7 612.1L684.4 611.1L685.5 606.3L689.6 578.9L688 572.9L688.7 570.6L689.7 562.8L691.7 555L693.8 550L700.3 548.4L703 546.8L707.6 539.6L708.8 537.1L713.4 513.7L716.2 504.9L719 504.6L722.5 505L729.4 495.6L735.3 474L741 436.4L745.3 402.4L749 381L749.8 378.4L753 372L754.1 372.4L755.2 370L759.9 355.1L764.4 323.7L767.7 310.3L768.8 308.1L780.4 308.6L784 308L787.5 306.9L790.1 305.2L797.7 266.2L798.5 263.6L803.7 253.7L806.6 248.9L815 244.2L817.2 242.2L821.3 234.8L835.5 202L847.9 165.7L849.9 163.7L852.8 162.3L853.6 159.8L859.7 124.9L860.1 123.9L862.1 122L865.3 121L865.7 121.5L868.1 120.3L871.6 107.4L874.9 92.3L877 84.6L879.1 74.1L881.3 73.1L884.4 72.7L886.4 73.7L890.2 79.5L893.1 79.1L894.7 77.1L896.3 63M487.6 748.1L612.5 748.1L624.2 747.6L627.2 744.7L629.1 737.8L631.8 732.9L636.8 727.1L639.3 722.2L642 709.9L657.5 628.1L660.8 615.8L662 613L663.2 613L671.2 614.5L676.4 615L692.5 615L694.5 614.7L696.1 614L698.8 612.1L699.6 611.1L700.2 609.7L700.8 606.3L702.8 592.2L705 578.9L703.9 572.9L704.8 565.3L705.9 560L709.1 549.6L716.6 547.9L719.7 546.6L724 539.2L725.1 536.6L729.6 512.8L733.3 501.7L740.1 501.4L744.7 497.1L748.1 492.3L750.7 484.5L754.1 472L759.7 435.5L763.7 403.5L768.1 379.7L771.9 370.1L776.4 354.3L781.3 322.5L783.1 315.2L784.8 310.1L786.1 307.9L789.6 307.7L797.8 309.5L801.5 308.6L804.8 307.2L806.8 305.2L809.4 294.7L814.8 265.6L815.6 262.9L820.8 250.1L822.1 247.7L828.3 246.2L831.2 244.5L833.7 242.5L836.8 237.6L843.3 225.2L850.8 204.5L854.2 194.1L856.9 189.2L864.5 169.9L865.8 167.4L868.5 165.9L872.2 164.8L873.2 162.4L878.7 130.6L879.5 128L881.6 126.1L885 124.8L887.4 123.1L892.5 104.7L898.1 77.7L900.2 76.1L903.1 75.7L905.8 77.2L910.4 86L913.4 85.2L914.9 83.1L917.4 65.7L918.1 63M494.3 748.1L619 748.1L630.8 747.6L633.8 744.7L635.7 737.8L638.5 732.8L643.5 727.2L646.2 722.3L648 715.5L665 628.1L668.6 615.8L669.9 613L671.2 612.9L679.2 614.5L684.3 615L700 615L702 614.7L703.6 614L706.3 612.1L707.1 611.1L707.7 609.7L708.3 606.3L710.3 592.2L712.7 578.9L711.9 572.9L711.9 570.7L713 562.7L713.6 560L717 549.5L724.4 547.6L727.8 546.4L729.4 544.1L732.9 536.3L734.3 531L737.9 512.3L741.9 500.5L749 499.9L754.1 495.9L757.1 490.9L760 483.1L763.1 471.2L766.1 455.1L768.5 437.7L772.8 402.7L777.7 378.7L780.6 369.5L784.5 353.6L789.9 321.4L792.2 312.2L795 307.3L798 306.7L806.6 309.7L810.2 308.8L813.4 307.3L815.1 305.1L818.3 294.5L824.2 262.4L829.4 246.7L835.4 247L838.2 245.2L840.6 243.1L844 238.3L846 233.1L847.6 230.7L849.7 228.6L851 226.1L860.9 194.5L864.6 189.9L872.6 171.9L874.1 169.6L877.2 168.3L881 167.3L882.1 164.9L888.3 132.8L889.3 130.3L891.5 128.3L894.5 126.7L896.8 124.7L902.1 106.1L906.7 83.6L908.3 81.6L910.2 81.4L912.9 83L915.3 88.1L916.1 90.8L917.3 93.4L919.7 92.2L921.2 90L922 87.4L923.4 76.5L926.2 63M501 748.1L625.6 748.1L637.3 747.6L640.4 744.7L642.4 737.8L645.1 732.8L650.2 727.2L653.1 722.4L655.2 715.7L656.5 710.3L658.6 697.8L672.5 628.1L674 622.6L676.4 615.7L677.9 613L679.1 612.9L687.2 614.5L692.3 615L707.6 615L709.5 614.7L711.1 614L713.8 612.1L714.6 611.1L715.2 609.7L717.9 592.2L720.4 578.9L719.6 570.8L720.8 562.7L721.2 560L724.9 549.4L735.8 546.2L737.5 543.9L740.7 536.1L742.4 530.8L746.2 511.9L749.4 501.8L750.5 499.3L754.3 499.3L757.9 498.5L763.5 494.7L766.1 489.6L769.2 481.7L772.1 470.3L775.4 454.1L779.2 426.3L781.3 404.6L789.4 369L793.2 350.1L798.5 320.4L799.7 314.3L800.7 311.7L803.9 306.8L806.5 305.7L815.3 310L819 309L821.9 307.3L823.4 304.9L827.2 294.3L832.9 261.9L836.7 245.8L842.6 247.9L845.1 246L849.6 241.4L851.1 239L852.8 233.6L854.6 231.4L857.2 229.4L858.6 227L862.5 213.6L866.6 197.5L867.7 195L872.3 190.7L877.7 180.4L880.6 173.9L882.4 171.7L889.8 169.8L891.1 167.5L897.8 135.1L899.1 132.6L906.2 126.3L911.7 107.6L915.3 89.5L916.3 87.2L917.3 87L920.1 88.8L924.2 100.7L926.1 99.3L928.5 94.3L930.3 80.6L934.3 63M513.1 748.1L639.1 748.1L650.9 747.6L653.9 745.2L659.6 728.9L662.1 725.1L666.5 721.2L668.7 717.7L671.1 708.3L672.9 697.4L677.2 675.6L683.4 647.8L687.8 626L689.2 621.3L691.5 615.3L692.9 612.9L694.1 612.9L702.3 614.4L707.2 614.9L722.5 614.9L724.6 614.6L726.2 614L728.9 612.1L729.7 611.1L730.3 609.7L733.1 592.2L735.8 578.9L734.8 570.8L736.5 559.9L740.2 549.3L743.3 548L751 546.5L751.6 546.1L753.4 543.9L758.1 530.6L761.9 511.6L765.5 499.3L766.7 497L771.6 497.3L775.2 496.4L778.5 494.8L781 492.8L784.5 484.9L787.4 480L788.2 477.4L793.4 453L799.1 403.9L805.5 379.7L809.7 355.2L813.7 336.3L817.1 317.3L817.7 314.6L818.8 312L822.5 306.5L824.7 304.8L827.7 305.9L832.6 308.9L836.2 307.6L838.9 305.8L844.6 292.7L852.9 244.9L859.1 247.9L861.3 246L865.4 241.3L866.7 239.3L867.7 234.9L869.6 232.7L870.2 232.8L873.3 231.4L875.4 228.6L882 197.2L883 194.6L887.7 190.9L891.9 184.4L895.2 178.2L897.3 176.1L901 175.4L902.5 176.6L906 175.9L907.2 173.6L910.7 158.4L913.2 149.3L915.2 144.2L915.8 143.9L917.4 138L918.9 135.5L924.7 128.4L928.5 118.4L932.1 110.7L934.9 103L936.2 96.4L938.5 98L941.6 108.7L943.1 106.9L945.8 101.8L948.9 85.6L955.1 63M518.5 748.1L646.1 748.1L657.8 747.6L660.9 745.2L666.3 728.7L668.6 725L672.6 721.6L674.9 718.6L676.6 714.6L677.7 710.5L682.9 681.9L685.2 670.8L690.7 648.6L695.1 626.3L696.5 621.5L698.7 615.3L700 612.9L701.2 612.8L709.4 614.4L714.3 614.9L729.8 614.9L732.1 614.6L733.8 614L736.4 612.1L737.2 611.1L737.8 609.7L740.7 592.2L743.6 578.9L742.5 572.9L742.4 570.8L744 559.9L747.7 549.3L750.5 548L758.2 546.9L759.5 546.2L761.3 544.1L766.4 528.1L767.6 522.7L769.3 511.9L771.2 503.8L773 498L774.4 495.9L779.9 496.5L783.6 495.6L787 494.1L789.2 492L792.7 484.2L794.2 481.8L796.4 479.7L797.3 477.2L801.7 455.6L807.8 404.1L814.6 380L819.2 355.7L823.3 336.9L826.8 317.9L827.4 315.3L828.5 312.7L832.3 306.7L834.5 304.9L837.5 305.3L841.2 307.5L844.6 306.1L847.2 304.2L851.1 296.5L853.1 291.2L861.7 244.9L868.4 247.1L870.6 245.2L874.2 240.4L875.1 238.9L875.9 235.7L877.5 233.3L878.8 233.6L881.9 232.5L884.4 229.4L890.7 196.5L891.5 193.9L895.4 190.5L897.2 187.4L899.2 185.1L901.6 180.4L903.9 178.4L907.3 177.7L910.4 180.2L913.4 179.6L914.5 177.1L918.3 160.5L921.5 150.5L922.6 147.9L924.3 145.7L925.6 145L927.4 138.6L928.8 136.1L933.8 128.8L934.3 127.2L938.2 119.6L942.9 112.3L947 105L948 100.1L949.7 101.3L952 109.4L953.8 107.5L956.5 102.4L960.5 86.4L967.9 63M524 748.1L653.1 748.1L664.8 747.6L667.9 745.2L671.5 734.8L673 728.6L675.1 724.9L678.7 721.9L681 719.5L683.1 716.4L684.4 712.7L690.5 678.4L697.9 649.4L702.4 626.6L705.8 615.4L707.1 612.9L708.3 612.8L716.5 614.4L721.3 614.8L737.2 614.8L739.7 614.6L741.4 613.9L742.6 613.3L744.7 611.1L745.4 609.7L748.4 592.2L751.4 578.9L749.7 572.9L751.5 559.9L755.1 549.3L757.7 548L761.6 547.9L765.4 547.3L767.3 546.4L769.1 544.2L773.3 530.9L774.6 525.6L778.2 504.1L780.6 496.7L782.1 494.7L788.3 495.6L792 494.9L795.4 493.5L797.3 491.2L800.9 483.4L802.6 481.1L805.3 479.4L806.4 476.9L810.5 455.5L813.4 425.7L816.5 404.2L821.5 388.3L823.6 380.3L832.4 340.1L837 316L842 306.9L844.3 305L847.3 304.7L849.7 306.1L853 304.6L855.6 302.7L859.6 295L861.6 289.8L866.7 264.6L869.8 247.3L870.6 244.9L877.7 246.4L879.8 244.5L883.5 238.6L884.1 236.4L885.5 234L887.3 234.4L890.4 233.7L892.6 231.5L893.5 230.1L896.5 211.3L899.3 195.8L900.1 193.1L903 190.1L904.3 188L906.5 185.8L908.1 182.7L910.5 180.6L913.6 180.1L914.9 181.4L918.2 183.8L920.8 183.2L921.7 180.7L925.9 162.6L929.8 151.6L931.2 149.2L933.4 147.1L935.3 146.1L937.5 139.3L943 129.3L943.3 128.2L947.9 120.8L959.1 107.1L959.7 103.8L960.9 104.6L962.5 110L964.6 108.1L966.1 105.6L967.2 103L972.2 87.2L979.4 67.2L980.7 63M529.5 748.1L660 748.1L671.8 747.6L674.9 745.2L677.2 739.6L678.6 734.9L679.8 728.4L681.5 724.8L689.6 718.3L691 714.9L697.1 679.8L698.6 673.4L703.5 656.8L705.1 650.3L711 621.8L713 615.4L714.2 612.8L715.4 612.7L723.6 614.3L728.3 614.8L744.5 614.8L747.2 614.5L749 613.9L750.2 613.3L752.2 611.1L753 609.7L756.1 592.2L759.2 578.9L757 572.9L759.1 559.9L762.6 549.4L764.9 547.9L768.8 548.1L772.5 547.7L775.1 546.5L777 544.3L782.3 525.8L782.9 523.1L785.3 504.4L788.2 495.4L789.7 493.6L796.7 494.8L800.4 494.1L803.9 492.8L805.4 490.4L809.2 482.7L811.1 480.5L814.2 479L815.4 476.7L819.3 455.3L821.7 425.7L825.1 404.3L825.8 401.7L830.6 388.6L832.7 380.6L842 340.7L846.7 316.7L851.7 307L854.1 305.1L857.1 304L858.3 304.7L861.4 303.1L864 301.1L869.4 291L874.8 266.5L878.5 247.2L879.4 244.9L887 245.6L889.1 243.8L893.4 234.6L895.9 235.3L899 234.9L901.4 232.8L902.5 230.9L905.1 212.1L908.6 192.4L911.3 188.6L913.8 186.5L914.6 184.9L917.1 182.9L919.9 182.4L921.7 184.2L926 187.4L928.2 186.9L933.5 164.6L938.2 152.7L939.8 150.4L942.5 148.5L945.1 147.3L947.6 140L952.3 129.2L957.6 122L971.2 109.2L971.5 107.5L972.1 107.9L972.9 110.6L975.3 108.7L976.8 106.2L983.8 88L992 67.7L993.4 63"/>
<path stroke="#000" stroke-width="3.5" d="M191.6 603.5L204.3 604L206.8 604.6L209.1 605.7L212.7 608.2L213.9 608.5L215 607.8L217.1 605.4L220.2 596.9L221 597L222.9 603.4L226 616.6L229.8 630.8L231.3 634.3L232.5 634.6L234 631.8L236.7 628.1L237.9 625.7L241.7 614.5L243.7 599.7L247.5 559.7L253.5 434.8L257.4 403.1L261.2 381.1L261.9 378.8L265 371.7L267.6 371.2L271.2 371.8L274.2 345L277.4 303.5L280.2 271.7L282.8 259.5L283.5 258.3L288.8 272.6L289.5 272.2L293.1 255.2L296.7 233.3L299.1 194.2L302 167.3L304.9 145.3L308.9 130.9L314.1 119.1L317 104.5L321.5 63M191.6 603.5L206.4 603.7L212.4 604.3L221.8 603.4L234.6 603.1L237.6 604L239.9 606.1L241.5 606.4L243.4 605.3L244.8 602.1L246.3 595.3L248.5 588.4L249.7 590L255 609L259 620.7L260.5 624.2L262 626.4L263.2 625.7L267.5 613.5L268.7 608.2L273.5 578.9L273.3 559.7L279.2 435.8L282 412.9L282.4 410.7L287.6 404.7L290.3 403.4L291.4 401.4L297 364.8L302.2 335.2L306.9 291.7L308 273.4L309.5 271.4L311.7 269.7L313.4 267.7L319 254.5L321.8 233.9L324 208.7L327 181.2L329.6 167.6L330.2 165.3L335.7 154.5L337.6 145.4L340.8 120.2L347.3 63M191.6 615.7L223.6 614L250 613.2L261.6 612.1L264.7 611.4L266.6 610.1L268.3 607.4L270.6 601.6L275.4 583.2L276.7 580.1L277.9 581.9L283.5 604.3L285.1 606.7L286.8 604.6L288.3 604.6L290.4 606.6L291.7 605.6L293.8 596.4L296.4 578.9L297.1 563.6L301.1 533.8L312.8 416.5L313.2 414.2L317 403L320.9 368.5L325.3 338.7L328.7 325L329.9 322.9L336.4 314.8L337.2 312.6L340.8 294.3L348.5 234.6L352.8 193.2L355.5 177.1L356.3 174.9L360.3 168.6L364.4 155L367.6 134.4L369.6 104.4L372.9 63M191.6 625.2L246.2 623L257.6 622.1L262 622L267.3 622.4L272.1 622.3L283.2 621L289.7 619.7L292.8 618.3L294.9 616.7L297.2 614.1L298.7 610.8L300.2 605L304.8 583.6L306.4 578.3L307.7 578.3L309.6 583.6L314.4 600.9L315.9 604.7L317.3 604.7L319.2 600.9L320.5 597.1L325.4 578.9L328.9 559.7L332.8 514L340.6 436.4L344.6 404.4L346.6 390.8L352.7 363.6L356.6 336.3L360.3 315.9L361.4 313.8L366.2 310.6L367 308.4L370.6 290.2L374.4 265.2L378.4 233.3L383.6 213L387.2 194.8L390.5 165.2L394.3 142.4L400.4 119.9L409 63M185.5 748.1L189.1 652.3L190 636.9L191.2 628.1L193.1 624.9L201.1 626.2L202.8 626.8L205 628.2L209.1 628.6L244 627L276.6 626.1L322.3 626.8L325.3 626.5L326.8 625.8L328.3 624.7L332.9 620.7L336.3 618.5L340.9 616.2L342.4 614.8L343.9 612.6L345.1 609.7L349.2 597.4L353.1 595.4L355.8 592.8L358.5 586.5L360.9 578.9L364.6 559.7L368.5 534.3L374.4 455.7L377.4 435L380.2 421.2L381.7 420.2L384.8 421.2L387 420.8L390.5 414.2L398 365.9L402.3 335.9L408.3 303.7L414.2 264.6L420.2 232.4L422.1 213.9L426.1 183.9L428.8 170.2L430.3 168.2L432.6 166.4L433.3 164.3L436.1 143.5L440.7 115.9L445.8 95.3L449.4 63M215.5 748.1L220.4 660.3L221.7 648.3L223.6 642.6L225.3 640.9L231.7 645.1L237.1 644.5L248.5 641.5L258.3 639.6L295.6 633.9L328.6 627.9L337.5 626.7L344.9 625.1L351.9 624.3L357.8 624.8L363.7 621.3L364.5 621.5L367.9 623.6L371.6 627.7L374.6 630.2L375.8 630.4L377.3 629.7L378.4 627.3L381 613.5L385.9 578.9L390.4 559.7L396.1 546.4L396.7 544.1L402.5 516.7L406.3 493.8L412.2 454.7L418.1 425L424.2 402.3L427.2 363.2L431 340.2L438.2 335.3L440.3 333.5L444.7 324.7L445.1 322.5L447.8 285.6L451.5 262.7L452.1 260.4L457.2 251.8L458.1 249.6L461.6 233.7L469.7 125.4L473.5 104.8L474.6 102.7L480.4 96.9L482.7 78.6L487.7 67.5L489.1 63M242.8 748.1L248.9 689.8L250.1 681.4L251.2 678.3L252.6 677.5L254.9 678.7L260.4 678.5L315.5 669.1L354.3 661.1L361.8 658.8L369.5 655.6L373.2 653.6L375.1 651.9L376.3 650.3L377.5 648L381.1 633.8L382.8 628.6L386 622.6L388.9 619.3L389.6 619L392.3 619.2L395 620.1L397.3 622.4L402.9 631.5L405.8 636.8L407.5 637.8L408.8 634.7L409.8 631.2L413 615.3L416.8 578.9L420.1 559.7L424.4 548.5L432 514.3L437.8 475.4L442.3 443.3L448 420.6L455.9 402.9L459 382.3L465.6 317.9L466.2 315.7L472.7 307.6L480.1 299.8L489 287.3L489.8 285.1L493.6 264.5L497.6 232.4L501.5 184.1L504.6 149.6L509.2 131.4L515.5 113.5L518.3 95.2L521.9 63M276.6 748.1L279.5 727.9L282.5 711.6L283.4 707.9L284.1 706.3L285.2 705.9L287.1 706.3L293 705.9L320.1 703L396.6 696.5L405.7 695.4L410.2 691.9L412.5 684.3L414.3 673.8L416.6 654.6L418.4 642.3L420.7 630.1L422.2 623.8L424.6 618.1L425.1 617.3L425.8 616.9L428.7 617L434.9 618.5L442.9 620.9L444.4 620.6L450.2 616.4L451.6 614.7L453.1 612L454.3 607.7L463.8 559.7L467.8 543.4L473.4 515.5L477.8 473.3L483.9 433.6L492.4 403.6L497.4 389.9L509.4 375.6L513.2 345.1L517.1 321.8L518 319.6L521.9 315.7L523.4 313.6L527.1 285.5L530.2 266.8L536.6 261.2L537.5 259L542.1 233.4L548.1 193.6L552.1 153.8L555.1 135.1L557.2 116.4L560 102.4L560.6 100.1L564.1 91L565.2 88.8L566.7 86.7L569 87.2L571.4 88.9L573.8 88.3L575.8 86.4L578.8 63M304.2 748.1L309.2 737.6L310 736.3L310.7 735.7L370.3 732.9L411.2 730.3L423.7 729.1L432.5 727.6L437.1 722.9L440.2 712.6L443.2 695L450.5 641.9L454.1 622.1L456 617.4L456.5 616.3L457.2 615.9L458.4 615.8L464.7 617.8L467.7 618.5L473.6 618.7L482.3 616.4L483.8 615.4L484.7 614.3L485.5 612.4L491.9 578.9L497.5 559.7L499.5 549.9L505.6 513.3L517.3 435L525.2 403.4L529.1 381.4L531.2 381.9L536.5 385.3L538.9 384.2L548.2 376.6L549.4 374.3L554.9 345L557.9 305.8L559.1 305.1L562 306.1L565.4 305.1L568.1 303.8L573.1 289.4L578.8 255.2L584.1 230.9L588.7 194.1L592.7 154.8L593.5 135.2L599.4 101L602.2 81.4L604 76.6L605.7 74.8L609.3 74.2L611.2 69.6L613.6 70.2L618.6 73.8L620.4 72.4L623.1 67.8L624.8 63M332.2 748.1L335.2 744.5L337.7 743.2L411.2 742.1L446.9 740.9L455.9 740.1L459.7 738.8L462.4 737L465.5 733.7L467.5 725.3L469.6 707.2L472.4 688.4L477.6 658.8L485.8 616.3L486.7 613.7L488 613.7L495.8 615.8L504.4 617L506.6 616.9L511 615.2L515.8 611.5L517.1 607.7L518.6 599.3L523.3 578.9L527.3 559.7L531.3 545.5L537.1 514.6L543.2 474.1L547.3 433.4L553.1 402.5L557.3 383.6L563.7 381.5L577.2 378.2L580.2 376.9L588.2 372.1L589 369.9L596.6 315L602.5 298.7L600.1 291.8L608.6 281.3L615 270.1L621.5 234.4L632.5 146.1L633.5 134.1L636.2 110.2L641.1 96.2L643.5 86.8L644.9 84.6L648.6 80.5L649.7 78.3L650.3 71.1L650.9 68.8L653.3 67.6L655.3 69.6L657.1 69.8L659.7 65.4L660.4 63M359.2 748.1L480 748.1L491.7 747.6L494.3 746.7L495 744.8L498.5 731.8L500 722.1L501.5 706.3L504.1 688.4L513.7 630.1L516.5 616L517.6 613.4L518.8 613.3L524.3 615L528.2 615.7L534.5 616.3L541.5 616.5L543.1 616.1L546.9 612.6L548.9 609.8L551.9 598.9L554.2 592.2L559.5 578.9L563 559.7L567 533.7L570.9 522.1L576.5 510.9L577 508.5L578.8 475.3L582.8 435.1L590.9 402.3L594.9 383.5L600.6 377.6L600.2 375.2L601.9 374.6L608.7 375.5L618.2 372.4L620.2 370.7L623.9 359.1L627.9 335.5L631.4 321.5L633 319.5L638.4 316.4L641.6 304.8L644.4 285.9L647.2 274.2L648.6 272.1L654.2 269.3L655.8 267.4L659.6 248.6L663.1 234.5L663.8 232.2L671.4 213.9L674.5 192.6L677.4 164.2L679.3 135.8L679.8 133.5L683.2 126.7L686.7 110.3L689.5 84.2L692.8 63M392.9 748.1L519.1 748L524.8 747.6L528.2 745.8L531.1 741.6L533.1 735.9L535.4 725.6L541.1 688.4L549.2 642.3L550.7 630.1L552.1 622.5L554.2 615.4L555.5 612.6L556.7 612.5L562.2 614.6L566.3 615.3L573.2 615.7L580.1 615.4L581.9 614.9L584.4 612.8L586.2 609.5L588.8 598.9L590.9 592.2L595.7 578.9L600.7 559.7L603.3 545.3L604.3 543L607 541.4L608.7 539.4L613.7 530.3L614.4 527.9L619.6 508.9L623.7 484.8L627.9 453.5L630.8 424.5L633.7 402.9L637.4 381.2L638.1 378.9L641.6 372L651.6 374.3L655.1 374.5L658.6 374L659.9 372L663.6 352.8L666.6 323.9L668.6 319.2L670 317.2L687.4 314.1L692.8 305.1L693.6 302.8L705.1 245.2L709.9 233.6L712.9 216.8L714.5 214.7L719.4 211.2L726.3 202.7L727.3 200.4L731 183.6L738.7 125.8L741.9 94.4L744.2 63M420 748.1L546 748L551.8 747.6L555.1 744.8L559.4 733.1L560.9 727.7L562.7 723.1L565.8 716.6L567.4 710.9L568.6 703.1L583.9 620.9L585.2 615L586.2 612.6L587.4 612.5L592.7 614.6L596.9 615.3L612.4 615.5L614.8 614.8L616.7 613.3L618.4 612.5L620.7 611.9L622.2 611.2L623.7 609.8L624.7 606.3L628.1 578.9L626.8 572.9L628.2 571.2L629.7 563.8L633.9 549.2L639.3 534.9L641.2 532.8L643.9 531.1L645.9 529.1L649.6 517L654.2 513.1L655.9 511L659.3 498.9L663.5 474.3L667.4 434.8L671.1 405.2L675.2 380.6L679.2 371.1L686.2 371.7L688.4 370.3L693.3 363.6L697.2 344L699.1 321.8L699.6 319.3L703.2 312.3L721.5 310.5L723.4 308.9L727 294.2L730.6 274.6L731.3 272.2L736.2 265.6L737.5 263.2L742.6 251.4L749.1 232.1L754.7 217.7L762.8 201.2L766.6 184.1L769.5 159.5L772.4 147.3L774.1 145.2L779 141.5L780.7 139.4L784.2 122.2L787.4 95.1L789.8 63M446.9 748.1L568.4 748.1L580.1 747.6L583.2 744.8L586.7 732.5L588.2 725.6L590 722.2L593.1 720.5L594.6 718.5L606.9 658.8L613.9 620.9L615.2 615L616.2 612.6L617.4 612.5L627.2 614.2L632.5 614.7L647.4 614.8L649.5 614.6L651 614L653.2 612.1L653.7 611.1L658.4 578.9L656.9 572.9L657.8 570.8L659.6 555.6L668 547L675.2 538L680.5 523.1L682.2 513L684.4 512.9L687.4 513.7L690.7 503.8L697.3 473.5L703.1 435.4L707.2 402.3L711.2 379.5L716.8 367.3L719.5 368.1L722.6 369.6L723.6 367.6L726.7 355.1L730.9 324.6L734.8 306.9L737.9 306.3L749.4 306.3L753 305.6L756.4 304.5L757.2 302.1L765 264.2L770.7 254.7L777.9 245.7L779.1 243.3L782.4 233.3L787.8 221.1L797.9 204.5L799 202.1L808.1 174.7L816.3 134.2L819.9 121.7L823.3 114.4L824.7 113L826.8 115.2L828.4 115.6L830.2 108L833.8 90.3L834.7 87.8L839.1 80.8L841.8 63M481 748.1L605.9 748.1L617.6 747.6L620.2 746.4L623.6 733.1L626 729.3L630.2 726.7L632.3 723.1L650 628.5L653 615.3L654.1 613.1L655.3 613L663.2 614.5L668.4 615L684.9 615L687 614.7L688.6 614L691.3 612.1L692.1 611.1L692.7 609.7L693.3 606.3L697.3 578.9L695.8 572.9L696.5 570.6L697.5 562.7L701.3 549.7L708.9 548.2L711.7 546.8L716.1 539.4L717.2 536.9L721.3 513.2L724.7 502.9L727.7 502.6L731.3 502.8L739.1 493.6L745.1 472.8L750.6 436L755 401.7L758.5 380.7L763.1 370.6L768.2 355.1L768.8 352.5L772.8 323.5L776 310.5L777.3 308.4L789.1 309.2L792.7 308.5L796.2 307.2L798.6 305.4L802.4 284.4L806.1 266.1L806.9 263.5L813.2 250.9L814.7 248.6L824.3 243.8L826.8 241.9L831.2 234.5L832.5 232L844 203.9L853.4 175.6L857.4 165.3L859.8 163.5L863.3 162.3L864.2 159.9L869.6 125.7L871.8 124L875.5 123L878 121.5L881.7 108.5L889.5 71.8L892.2 70.6L896.1 70.1L898.6 71.4L903.4 78.6L907 78.1L908.7 76.2L910 63M507.6 748.1L632.2 748.1L643.9 747.6L646.6 746.4L647.8 743.7L650.3 732.6L651.5 729.1L653.1 727.6L655.3 726.4L659.5 724.9L661.6 722L664.8 703.1L667.7 688.4L679.9 628.5L681.9 621L684.4 615.3L685.8 613L687 612.9L695.2 614.5L700.2 615L715.1 615L717.1 614.7L718.6 614L721.3 612.1L722.1 611.1L722.7 609.7L725.4 592.2L728.1 578.9L728 572.9L727.3 570.9L728.9 559.9L732.7 549.2L736.1 548L743.8 546L745.6 543.8L750.6 530.5L754.5 511.4L757.9 500.6L759 498.2L763.2 498.2L766.8 497.1L770.1 495.5L772.9 493.6L778.5 480.4L784.7 453.2L788.3 425.8L790.4 403.8L796.5 379.4L800.3 354.8L808 313.8L809.1 311.2L812.8 306.3L814.9 304.7L824.1 310.3L827.8 309.1L830.5 307.4L836.1 294.1L844 244.9L849.8 248.7L856.7 242.1L858.2 239.6L859.6 234.2L861.6 232L864.8 230.2L866.3 227.8L873.3 197.9L874.5 195.4L880 191.4L886.1 181.1L888.7 175.9L890.7 173.8L898.6 172.2L900 170L907.3 137.3L909 134.9L915.6 127.9L921.2 109.1L924.4 92.7L927.3 94.6L931.2 108.1L932.4 106.4L935 101.2L937.3 84.7L942.4 63M534.9 748.1L667 748.1L678.7 747.6L681 747.8L681 748.5L683.6 746.2L684.8 741.7L687.5 720.6L688.6 718.8L690.7 719.5L692 721.2L693.1 724.9L694.3 725.8L696 724.7L697 722L703.4 681.7L705.2 673.8L707.9 666.9L709.9 660.4L712.4 650.9L718.5 621L720.2 615.1L721.3 612.8L722.5 612.7L730.7 614.3L735.4 614.7L751.9 614.8L754.7 614.5L756.7 613.9L757.9 613.3L759.8 611.1L760.5 609.7L763.8 592.2L767 578.9L764.3 572.9L765 570.6L766.6 559.9L770.1 549.4L772.1 547.9L776 548.4L779.7 548.2L782.9 546.6L784.9 544.4L790.5 523.3L792.4 504.6L795.8 494.1L797.4 492.4L805.1 494L808.8 493.4L812.3 492.1L817.4 482L819.5 479.9L823.1 478.7L824.5 476.5L828 455.2L830.1 425.7L833.8 404.4L834.6 401.8L840.4 386.2L851.7 341.3L855.6 320L856.4 317.4L861.4 307.2L863.8 305.2L869.8 301.6L872.3 299.5L876.8 292.1L878 289.5L883.5 265.7L887.2 247.1L888.3 244.8L896.3 244.8L898.3 243.1L901.4 235.3L904.5 236.1L907.6 236.1L910.2 234L911.6 231.7L913.6 212.9L917.1 191.6L918.4 189.2L923.7 185.2L926.2 184.8L928.4 187L933.9 191L935.6 190.5L937.1 182.6L941.1 166.7L946.5 153.8L948.4 151.6L954.8 148.4L961.2 130.2L965.2 125.5L967.3 123.2L986 109.2L987.6 106.8L1004.6 68.3L1006.2 63"/>
</g>
<rect x="209" y="76.5" width="127" height="40.5" fill="#fff"/>
<g stroke="#000" stroke-width="2.3" fill="none" stroke-linecap="butt">
<rect x="197.6" y="62.7" width="827.8" height="690.6"/>
<line x1="169.9" x2="197.6" y1="749.50" y2="749.50"/>
<line x1="1025.4" x2="1052.6" y1="749.50" y2="749.50"/>
<line x1="169.9" x2="197.6" y1="613.02" y2="613.02"/>
<line x1="1025.4" x2="1052.6" y1="613.02" y2="613.02"/>
<line x1="169.9" x2="197.6" y1="476.54" y2="476.54"/>
<line x1="1025.4" x2="1052.6" y1="476.54" y2="476.54"/>
<line x1="169.9" x2="197.6" y1="340.06" y2="340.06"/>
<line x1="1025.4" x2="1052.6" y1="340.06" y2="340.06"/>
<line x1="169.9" x2="197.6" y1="203.58" y2="203.58"/>
<line x1="1025.4" x2="1052.6" y1="203.58" y2="203.58"/>
<line x1="169.9" x2="197.6" y1="67.10" y2="67.10"/>
<line x1="1025.4" x2="1052.6" y1="67.10" y2="67.10"/>
<line x1="270.10" x2="270.10" y1="35" y2="62.7"/>
<line x1="270.10" x2="270.10" y1="753.3" y2="781.2"/>
<line x1="406.60" x2="406.60" y1="35" y2="62.7"/>
<line x1="406.60" x2="406.60" y1="753.3" y2="781.2"/>
<line x1="543.10" x2="543.10" y1="35" y2="62.7"/>
<line x1="543.10" x2="543.10" y1="753.3" y2="781.2"/>
<line x1="679.60" x2="679.60" y1="35" y2="62.7"/>
<line x1="679.60" x2="679.60" y1="753.3" y2="781.2"/>
<line x1="816.10" x2="816.10" y1="35" y2="62.7"/>
<line x1="816.10" x2="816.10" y1="753.3" y2="781.2"/>
<line x1="952.60" x2="952.60" y1="35" y2="62.7"/>
<line x1="952.60" x2="952.60" y1="753.3" y2="781.2"/>
</g>
<g stroke="#3ec08f" stroke-width="3.1" fill="none" stroke-linejoin="miter">
<rect x="197.2" y="560" width="564.8" height="110.6"/>
<line x1="762" y1="560" x2="1262" y2="62.4" stroke-width="2.8"/>
<line x1="762" y1="670.6" x2="1262" y2="752.6" stroke-width="2.8"/>
</g>
<g text-anchor="end">
<text x="156.5" y="762.70">0</text>
<text x="156.5" y="626.22">2</text>
<text x="156.5" y="489.74">4</text>
<text x="156.5" y="353.26">6</text>
<text x="156.5" y="216.78">8</text>
<text x="156.5" y="80.30">10</text>
</g>
<g text-anchor="middle">
<text x="270.10" y="829.6">60</text>
<text x="406.60" y="829.6">80</text>
<text x="543.10" y="829.6">100</text>
<text x="679.60" y="829.6">120</text>
<text x="816.10" y="829.6">140</text>
<text x="952.60" y="829.6">160</text>
</g>
<text x="538.8" y="881.8" word-spacing="2.5"><tspan font-style="italic">V</tspan><tspan font-size="26" dy="9.5">sg</tspan><tspan dy="-9.5"> (mV)</tspan></text>
<text transform="translate(70.3 472) rotate(-90)"><tspan font-style="italic">G</tspan> (e<tspan font-size="26" dy="-13">2</tspan><tspan dy="13">/</tspan><tspan font-style="italic">h</tspan>)</text>
<text x="213.2" y="109.6" font-size="37.6" word-spacing="0.8"><tspan font-style="italic">B</tspan> = 0 T</text>
<text x="712.2" y="741.8" font-size="37.6" word-spacing="0.8"><tspan font-style="italic">B</tspan> = 16 T</text>
<text x="-3.2" y="35.2" font-weight="bold" font-size="50" stroke="none">a</text>
<text x="1039.8" y="35.2" font-weight="bold" font-size="51" stroke="none">b</text>
<g stroke="#b9c2e6" stroke-width="1" stroke-dasharray="5 4" fill="none">
<line x1="1263.5" x2="2089" y1="681.26" y2="681.26"/>
<line x1="1263.5" x2="2089" y1="544.78" y2="544.78"/>
<line x1="1263.5" x2="2089" y1="408.30" y2="408.30"/>
<line x1="1263.5" x2="2089" y1="271.82" y2="271.82"/>
<line x1="1263.5" x2="2089" y1="135.34" y2="135.34"/>
</g>
<g clip-path="url(#cb)" fill="none" stroke-linejoin="round" stroke-linecap="round">
<path stroke="#1236ad" stroke-width="2.0" d="M1252.7 312.8L1264.2 314.7L1267.1 315.6L1272.2 318.1L1274.5 318.8L1277.3 319.2L1279.4 320.9L1283.9 328.5L1288.3 337.6L1290.6 343.7L1292.4 346.5L1294.6 347.7L1296.2 347.2L1297.9 344.7L1299.2 339.9L1300.8 330.2L1302 311.8L1304.5 250.2L1306 225.7L1307.3 232.2L1309.1 273.3L1315.5 462.9L1321.2 612.1L1323.5 655.8L1325.2 659.4L1332.8 537.8L1336.6 439.7L1338.3 382.5L1341.7 207.7L1343.7 67.1L1345.9 -125.2M1252.7 312.8L1260.1 313.4L1266.1 314.6L1269.4 315.5L1275.4 318.7L1278 319.3L1281.3 318.8L1283.9 319.3L1289.4 322.8L1292.5 325.5L1297.8 332.2L1300.1 334.6L1302.9 336.6L1304.8 338.8L1306.8 342.3L1308.4 339.9L1310.5 330.2L1312 307.6L1313.7 259.9L1316.6 204.7L1318.1 215.1L1320.2 267.8L1327 465.1L1332.6 609.8L1334.9 654.2L1336.5 657.6L1343.2 529.7L1345.6 464.4L1348.3 370.1L1351.5 223.3L1354.2 67.1L1355.5 -125.2M1252.7 312.8L1261.1 313.2L1271.8 315.4L1274.8 316.8L1278.6 319.4L1281.6 319.8L1285.4 318.5L1292 317L1294.9 317L1298.6 317.7L1301.5 318.8L1307.9 322.7L1311.2 325.5L1313.5 330.4L1315.7 340L1317.6 339.9L1320.3 330.2L1322.1 303.5L1324.1 245.2L1325.5 211.4L1327.2 183.6L1328.8 196.9L1341.9 532.3L1344.1 579L1346.4 616.5L1347.9 618.5L1353.5 502.2L1355.8 443.3L1357.6 385.8L1360.5 263L1364.6 67.1L1365.2 -125.2M1252.7 343.5L1263 342.6L1276.1 342.7L1279.8 343.4L1284.4 345.3L1288.1 345.1L1304.7 337L1313.2 335.1L1317.9 334.8L1321.5 335.5L1325.9 337.8L1328.9 342.8L1332.3 353.4L1335 353.4L1338.5 342.6L1340.1 334.2L1342.9 266.7L1345.6 190.4L1348.7 134.2L1350.1 158.1L1358.1 362.1L1360.6 410.1L1366 485.6L1368.5 511.8L1369.9 512.5L1374.9 400.8L1376.5 356.8L1383.6 67.1L1383.7 -115.3M1252.7 374.2L1278 370.1L1282 370L1287.1 370.5L1291 369.9L1309.2 362.7L1318.3 360.8L1323.4 360.2L1327.3 360.3L1332.2 361.1L1335.8 363.6L1339.9 369.3L1343.1 366.8L1347 355L1348.8 345.5L1352.6 267.7L1356.6 157.1L1359.2 113.8L1360.6 138.1L1368.8 352.4L1371.2 394.2L1379.1 468.4L1380.6 470L1384.7 365.6L1386 324.6L1392.2 67.1L1392.6 -105.4M1252.7 404.9L1279.9 397.4L1294 394.7L1309.2 389.6L1319.1 387.3L1328.9 385.6L1338.5 384.4L1342.6 384.5L1347.6 385.1L1351.2 380.2L1355.6 367.3L1357.6 356.8L1362.3 268.6L1366.8 142.7L1369.8 93.5L1371.2 117.8L1379.4 338.6L1381.8 372.7L1384.6 376.6L1386.8 387.8L1389.8 412.4L1391.2 414.5L1395 310.1L1400.7 67.1L1401.5 -95.5M1252.7 459.1L1266.6 454.9L1289.4 446.4L1307.2 440.7L1318.6 438.4L1330 435.1L1335 434.1L1341.3 433.6L1346.4 432.5L1352.7 430.2L1357.7 427.3L1364 422.4L1368.5 414.8L1373.8 400.3L1376.4 388.2L1378.6 358.9L1381.4 312L1383.4 268.1L1388.1 127.4L1391.4 66.9L1392.1 67.4L1401.5 310.7L1402.3 319.4L1403.5 323.5L1404.7 324.3L1406.6 321.9L1408.2 327.1L1410.2 342.7L1411.8 331.8L1413.8 288.7L1415.4 243.7L1420.1 67.1L1422.3 -95.5M1252.7 482.7L1267.7 478.3L1304.6 465.8L1316.9 462.7L1323.8 461.6L1329.2 460L1336.1 457.1L1341.5 456L1348.3 456.3L1353.7 455.3L1360.6 452.6L1365.9 449.4L1372.7 443.9L1377.7 435.9L1383.5 421L1386.5 408.4L1389.3 377.3L1391.3 345.1L1394.3 278.9L1399.2 126.5L1402.5 60.7L1403.2 60.2L1412.5 291.4L1413.2 301.2L1414.3 309.1L1415.3 313.5L1416.9 317L1418.1 324.4L1419.8 339.8L1421.4 329.6L1423.7 288.1L1425.4 245.5L1430.9 67.1L1434.1 -105.4M1252.7 506.2L1268.8 501.7L1308.4 489L1321.6 485.9L1329 484.8L1334.8 482.9L1342.2 479.1L1348 478L1355.3 478.9L1361.1 478L1368.4 475L1374.2 471.4L1381.5 465.4L1386.8 457L1393.2 441.6L1396.6 428.5L1398.6 410.4L1400 395.8L1402.2 361.2L1405.2 289.8L1410.4 125.6L1413.6 54.4L1414.3 53L1418.4 139.5L1423.5 272.1L1425.1 294.6L1427.1 312.1L1429.4 337L1430.9 327.3L1433.5 287.5L1435.4 247.4L1441.8 67.1L1446 -115.3M1252.7 528.7L1276.7 530.3L1282.6 529.5L1317.7 518.7L1337.4 515.2L1345.1 513.1L1351.1 510.9L1358.7 507.2L1364.7 507L1372.4 510L1378.4 509.6L1386 505.6L1399.5 497.3L1405.2 490.7L1412.2 478.8L1415.9 467.2L1418.4 449.8L1420.1 435.4L1422.9 400.8L1429.3 295.7L1434.8 148.1L1437.3 90.6L1437.9 87.2L1442.3 163.2L1446.2 249.7L1447.9 280.5L1450.1 313.6L1451.5 305L1454.2 271.4L1456.2 237.2L1463.2 67.1L1468.5 -125.2M1252.7 527.6L1277.6 537.2L1283.8 537.3L1320.8 526L1341.7 522.6L1349.8 520.7L1356.1 518.6L1364.2 515.2L1370.6 514.9L1378.7 517.6L1385 517.5L1399.4 512.4L1407.4 509L1413.5 504.3L1421.1 495.5L1425.1 485.8L1427.7 469.9L1429.5 456.6L1441.3 329.3L1444 274.8L1449.8 133L1450.4 128.6L1454.3 183.8L1458.2 253.5L1461.1 293L1462.4 285L1465.1 255.9L1467 225L1473.8 67.1L1479.2 -125.2M1252.7 526.5L1278.5 544.1L1285 545.1L1308.8 537.6L1324 533.4L1330.7 532.1L1346 530L1354.5 528.2L1361.2 526.3L1369.7 523.2L1376.4 522.9L1384.9 525.1L1391.6 525.4L1415.3 520.8L1421.9 517.9L1430 512.3L1434.3 504.5L1437.1 490L1438.9 477.7L1446 418.7L1452 375.9L1453.4 362.9L1456.5 311.4L1460 228.4L1462.4 175.4L1462.9 170.1L1466.2 204.4L1469.7 247.8L1472.2 272.4L1473.4 264.9L1475.9 240.5L1477.8 212.9L1480.1 167L1484.4 67.1L1489.9 -125.2M1252.7 525.4L1279.5 551L1286.2 552.9L1311.1 545L1327.2 540.7L1334.2 539.4L1350.2 537.5L1359.2 535.8L1375.2 531.2L1382.2 530.8L1391.2 532.7L1398.3 533.3L1423.2 532.5L1430.2 531.5L1439 529.1L1443.5 523.1L1446.4 510.2L1448.4 498.9L1454.6 456.6L1459 431.1L1463.8 408.2L1465.4 396.5L1469 347.9L1475.4 211.5L1483.2 251.9L1486.8 225L1488.6 200.7L1490.9 158.7L1495.1 67.1L1500.5 -125.2M1260.6 821.3L1262.2 675.3L1264.2 595.1L1268.3 569.6L1276.8 585.1L1283.5 592.7L1292.1 596.3L1299.1 595.4L1308.5 589.3L1315.8 585.2L1325.3 580.8L1342.2 573.4L1375.9 560.7L1392.7 552.5L1400.1 549.9L1426.4 544.8L1443.2 541L1450.6 540.4L1460.1 541.1L1464.8 537.8L1468.8 520.9L1470.6 509.5L1474.4 491L1478.4 473.6L1482.9 458.4L1484.5 450.3L1487.8 414.4L1493.1 317.9L1493.9 312.4L1497.3 310.6L1498.3 312.3L1499.8 317.5L1500.9 319.5L1502.1 319.3L1503.2 316.3L1504.6 308.9L1505.7 298.4L1507.9 261.7L1510 211.5L1515 67.1L1520.8 -125.2M1272.3 841.3L1274 703.9L1276.3 631.3L1280.3 610.7L1288.4 630.8L1295 637.6L1303.7 634.7L1310.8 630.1L1320.2 621L1327.5 615.1L1387.9 578L1404.8 565.9L1412.2 561.1L1438.5 547.3L1455.3 537.8L1462.8 535.8L1472.3 536.4L1476.8 534L1479.8 521.8L1484 500.3L1487 487.6L1490.3 476.3L1491.4 470.4L1494 444.5L1498.8 375.6L1499.6 372.7L1503.6 378.5L1508.6 402.8L1510.1 406.3L1511.4 404.8L1513.1 397.5L1514.4 382.6L1516.8 327.3L1524.4 67.1L1530.5 -125.2M1284 861.2L1285.8 732.5L1288.4 667.5L1292.4 651.8L1300 676.5L1306.5 682.5L1315.4 673.1L1322.6 664.8L1331.8 652.8L1339.2 645.1L1373.4 617.9L1399.9 595.3L1424.2 572.3L1450.6 549.8L1467.5 534.5L1474.9 531.2L1484.5 531.6L1488.8 530.2L1498.4 490.5L1504.4 433.2L1505.3 432.9L1509.9 446.5L1516.2 486.1L1518.2 493.2L1519.7 493.2L1521.7 486.1L1523.1 466.8L1525.7 392.9L1533.7 67.1L1540.1 -125.2M1306.3 901.9L1308.3 784.3L1310.9 728.8L1315.1 717.3L1323.3 743.8L1330.4 747.5L1340.4 730.6L1348.3 718.3L1358.4 704.1L1366.5 694.5L1395.2 665.5L1421.6 636L1439.9 614.2L1468.3 579L1486.1 556L1493.9 549.8L1503.6 546.7L1507.9 552.6L1509.2 570.9L1510.4 567.5L1512.1 540.8L1515 511L1516.2 502.5L1519.3 486.3L1520.4 486.5L1522.4 491L1526.3 502.5L1528.7 519L1532.5 554.2L1537.8 610L1539.8 613.1L1542 591L1543.6 560.9L1546.5 465.9L1548.9 362.8L1554.6 67.1L1560.9 -125.2M1318.9 833.9L1321.2 782.3L1325.4 771.1L1333.9 794.3L1341.2 797.1L1351.1 781.2L1359 769.5L1369 755.8L1377 746.3L1405.3 716.9L1423.4 696.4L1449.3 664.8L1477.3 629.2L1485 618.4L1494.6 604L1501.8 595.4L1510.8 587.9L1514.9 596L1516.3 624.2L1517.8 615.7L1520.1 566L1521.7 537.9L1523.7 515.9L1525.2 503L1527.9 485.9L1528.7 481.1L1529.8 480L1531.7 481.9L1533.6 485.3L1536.4 492L1539.2 511.3L1543.3 553.6L1549.5 633.2L1551.6 638.1L1553.8 605.4L1555.3 570.8L1559.7 421.7L1566.2 67.1L1572 -125.2M1415.4 795.8L1433.2 774.6L1450.9 752.5L1486.3 706L1493.8 694.2L1518 651.1L1521.8 655.9L1523.4 682.1L1525.1 663.8L1528 591.2L1530.1 550.9L1534.2 503.4L1538.2 476L1539.2 473.9L1541.1 474.1L1543.1 477.1L1546.5 484.4L1549.6 505.8L1554.1 553L1561.2 644.5L1563.5 651.4L1565.5 616.5L1567 580.6L1571.6 426.3L1577.7 67.1L1583.1 -125.2M1541 855L1546.5 658.1L1549.1 591.4L1552 536.4L1554.1 506.3L1558.4 466.9L1559.4 463.8L1561.2 463.1L1563.6 466L1567.7 474.3L1571.3 494.2L1576.5 536.9L1580 570.9L1583.9 614.8L1586.3 621.2L1588.6 593.8L1590.3 563.8L1595.5 424.3L1596.9 367.6L1602.2 67.1L1607.3 -125.2M1553.7 833.4L1557.1 699.7L1559.7 618.9L1562.8 547.1L1564.9 508.8L1569.2 462.8L1570.2 459.6L1572.1 458.8L1574.5 461.6L1578.7 469.5L1582.6 486.4L1588 521.5L1591.5 548.7L1595 582.9L1597.3 586.8L1599.9 562.5L1601.8 537.1L1607.5 417.8L1609 364.4L1615 67.1L1620.3 -125.2M1564.3 894.2L1567.8 741.3L1570.4 646.4L1573.6 557.8L1575.7 511.2L1580 458.8L1581 455.4L1582.9 454.6L1585.3 457.3L1589.8 464.8L1593.8 478.6L1599.5 506L1603 526.5L1606 551.1L1608.4 552.4L1611.2 531.3L1613.3 510.3L1615.7 478.2L1619.5 411.3L1621.1 361.2L1627.9 67.1L1633.4 -125.2M1574.9 954.9L1578.4 782.9L1581 673.9L1584.3 568.5L1586.5 513.7L1590.8 454.7L1591.9 451.1L1593.7 450.4L1596.2 452.9L1600.8 460.1L1605 470.8L1611 490.6L1614.4 504.3L1617.1 519.2L1619.4 518L1622.5 500L1624.8 483.6L1627.4 459.9L1629.3 437.7L1631.5 404.8L1633.2 358L1640.7 67.1L1646.4 -125.2M1600.6 839.6L1603.7 700.3L1607.1 575.2L1609.3 511.8L1613.4 448.3L1614.4 444.3L1616.2 443.6L1619 446.8L1634.6 472.7L1640.4 480.8L1642.8 476.9L1646.5 463.8L1649 453.2L1651.7 439.3L1653.6 424.1L1655.6 399.3L1657.3 356.1L1665.5 67.1L1672.1 -125.2M1612.3 854.6L1615.6 699.2L1619.1 571.2L1621.2 507.4L1625.1 445.9L1626.1 441.8L1628 441L1630.8 445L1636.3 456L1640.8 463.1L1646.7 470.3L1650 473.4L1652.6 474.2L1655.1 470.1L1659.1 458.8L1661.7 449.5L1664.3 437.1L1666 423.2L1667.7 400.2L1669.2 357.5L1677.5 67.1L1684.7 -125.2M1623.9 869.6L1627.6 698.1L1631 567.2L1633.1 503L1636.8 443.5L1637.9 439.2L1639.7 438.5L1642.7 443.2L1648.6 456.2L1653.1 463.2L1658.7 467.9L1662 469.1L1664.7 467.6L1667.5 463.3L1671.8 453.8L1674.4 445.8L1676.8 434.8L1678.3 422.2L1679.8 401.2L1681.2 358.8L1689.5 67.1L1697.3 -125.2M1647.8 813.2L1654.9 549.4L1659.5 441.2L1660.6 431.4L1662.5 430.6L1665.5 435.9L1671.5 450L1675.9 456.5L1681.1 458.8L1684.4 459.1L1687.7 457.8L1690.7 454.2L1695.2 446.4L1697.8 439.1L1700.2 428.5L1701.7 417.4L1703.2 399.9L1713.2 67.1L1721 -125.2M1656 929.5L1664.8 600.1L1670.4 441.2L1671.7 426.1L1673.5 425.3L1676.5 430.3L1682.2 443.6L1686.4 449.7L1691.4 452.1L1698.5 454.6L1701.7 451.9L1705.9 443.9L1708.6 436.1L1711 424.5L1712.7 413.6L1714.5 397.5L1716.2 357.5L1720.6 200.2L1725 67.1L1732.1 -125.2M1670.8 790.2L1674.7 650.8L1681.4 441.2L1682.7 420.8L1684.5 420L1687.4 424.6L1692.9 437.1L1696.9 443L1701.7 445.4L1705.2 447.8L1709.3 451.4L1712.6 449.6L1716.7 441.4L1719.3 433.2L1721.8 420.5L1725.9 395.2L1727.6 356.1L1732.1 200.2L1743.2 -125.2M1692.2 852.9L1703.8 440.4L1705.3 414.7L1707.1 413.9L1709.9 418.2L1715.1 430L1719.5 435.9L1725.2 439.4L1729.3 442.4L1734 446.8L1737.1 445.2L1740.5 436.7L1742.8 427.7L1749.6 388.8L1751.4 351.3L1756.4 200.2L1761.9 67.1L1767.7 -125.2M1705.5 793.5L1713.3 505.9L1715.3 440L1716.8 413.8L1718.6 413L1721.4 417.4L1726.7 429.2L1731.5 435.6L1747.8 445.5L1750.8 443.1L1753.5 434.5L1755.5 425.3L1758.1 410.4L1761.9 384.6L1763.7 347.9L1766.3 268.8L1769.1 200.2L1775.5 67.1L1781 -125.2M1717.1 799.2L1724.6 506.5L1726.8 439.5L1728.3 412.9L1730.2 412.2L1733 416.6L1738.3 428.5L1743.6 435.3L1751.8 440.7L1756.9 443.1L1761.7 444.1L1764.4 441.1L1766.5 432.4L1770.9 407.4L1774.3 380.4L1776 344.4L1778.7 267.8L1781.8 200.2L1789 67.1L1794.4 -125.2M1738.3 865.8L1747.1 504.6L1749.5 437.2L1751.2 410.5L1753 409.7L1755.8 414.4L1761.2 427L1767.1 434.3L1776.7 440.1L1782.3 441.9L1787.1 440.6L1789.6 436.5L1795.1 401.6L1797.8 375.6L1802.2 266.8L1805.5 200.2L1813.3 67.1L1819 -125.2M1749.5 865.8L1758.2 504.3L1760.8 436L1762.5 408.8L1764.3 408.1L1767.2 413L1772.5 426.2L1778.5 433.5L1788.2 438.8L1793.9 440.2L1798.7 438.5L1801.2 434.1L1804.5 414.7L1808.9 375L1813.2 266.8L1816.5 200.2L1824.1 67.1L1830.2 -125.2M1760.7 865.8L1764.7 701.5L1767.2 579.2L1769.3 503.9L1772 434.7L1773.8 407.2L1775.6 406.4L1778.5 411.6L1783.8 425.4L1789.9 432.8L1799.8 437.6L1805.5 438.6L1810.2 436.3L1812.8 431.6L1814.8 421.9L1816.2 411.9L1820.1 374.4L1824.3 266.8L1827.4 200.2L1834.9 67.1L1841.5 -125.2M1771.8 865.8L1775.9 701.5L1778.3 579.2L1780.4 503.6L1783.3 433.4L1785.1 405.5L1787 404.8L1789.8 410.2L1795.2 424.7L1801.2 432L1811.4 436.4L1817.1 437L1821.8 434.2L1824.4 429.2L1826.5 419.2L1827.9 409.1L1831.3 373.8L1835.3 266.8L1838.4 200.2L1845.7 67.1L1852.8 -125.2M1796.2 800.7L1801.7 553.6L1803.4 499.5L1806.1 431.1L1807.9 403.9L1809.8 403.1L1812.6 408.8L1817.9 423.9L1824.1 431.1L1834.4 434.6L1840.4 434.9L1845.4 432.2L1848.3 426.7L1850.7 415.2L1852.4 405.5L1856.4 373.8L1862.7 200.2L1868.7 67.1L1873.8 -92.1M1807.7 800.9L1813.5 553.9L1817.7 431.2L1819.4 403.9L1821.2 403.1L1824 408.8L1829.3 423.9L1835.5 431L1845.8 434L1852 434.4L1857.5 432.4L1860.6 426.6L1867.4 394.1L1870.5 374.4L1871.9 341L1876 200.2L1880.8 67.1L1883.6 -58.9M1819.1 801.2L1826.9 500L1829.2 431.2L1830.9 403.9L1832.7 403.1L1835.5 408.8L1840.8 423.9L1846.9 430.8L1857.3 433.5L1863.7 434L1869.5 432.6L1872.9 426.6L1875.6 412.7L1877.8 404L1880.7 395.8L1882.5 387.7L1884.5 375L1885.9 341L1892.9 67.1L1893.3 -25.7M1841.7 802.2L1849.8 500.4L1852 431.3L1853.6 403.9L1855.4 403.1L1858.6 408.5L1865.1 423L1871.7 429.4L1882 431.2L1888.5 431.7L1894.7 431.2L1898.2 425.9L1900.9 413L1903.1 405.1L1906.1 398L1908 389.6L1909.8 375.6L1911 341L1916.3 67.1L1914.3 7.5M1852.9 803L1861 500.6L1863.2 431.4L1864.8 403.9L1866.6 403.1L1870.3 408.3L1877.9 422.1L1885 428.1L1895.3 429.4L1901.7 429.8L1907.7 429.6L1911.1 425.3L1913.7 414.6L1918.3 398.4L1919.8 389.5L1921.1 375.6L1922.1 341L1927.7 67.1L1925.6 7.5M1864.1 803.8L1872.3 500.8L1874.4 431.5L1876 403.9L1877.9 403.1L1882 408L1890.8 421.3L1898.3 426.8L1914.9 428L1920.8 428.1L1924 424.8L1926.5 416.1L1930.4 398.8L1931.6 389.4L1932.3 375.5L1933.2 341L1939 67.1L1936.9 7.5M1884.5 865.8L1895.1 487.5L1897.1 428.4L1898.6 404.9L1900.4 404.1L1904.9 408.6L1914.4 420.9L1922.3 425.9L1945.1 426.8L1948.2 424.3L1950.5 417.7L1952.1 410.6L1953.9 399.2L1954.8 389.2L1962 67.1L1959.8 7.5M1895.7 865.8L1906.3 487.7L1908.4 429.1L1909.9 405.8L1911.7 405.1L1916 409.5L1925.2 421.5L1933.1 426.4L1956.3 427L1959.4 424.4L1961.7 417.7L1963.4 410.6L1965.3 399.2L1966.3 389.2L1973.6 67.1L1971.4 7.5M1906.9 865.8L1917.6 487.9L1919.7 429.9L1921.2 406.8L1923 406L1927.2 410.3L1935.9 422L1943.8 426.8L1961.8 427.6L1967.5 427.3L1970.7 424.5L1972.9 417.8L1974.6 410.6L1976.7 399.2L1977.8 389.2L1979.2 341L1985.3 67.1L1983 7.5M1918.1 865.8L1928.8 488.1L1931 430.6L1932.5 407.7L1934.4 407L1938.4 411.1L1946.7 422.5L1954.5 427.3L1973 428L1978.7 427.5L1981.9 424.6L1984.2 417.8L1988.1 399.2L1989.2 389.2L1990 375.5L1990.8 341L1996.9 67.1L1994.6 7.5M1941.9 808.7L1949 559.5L1953.8 435.9L1955.7 408.5L1957.5 407.7L1961.4 411.8L1969.4 423L1977.2 427.7L1988.9 428.5L1995.7 428.5L2001.2 427.7L2004.3 424.7L2006.6 417.8L2010.7 399.2L2011.9 389.2L2012.8 375.5L2013.7 341L2016.6 200.2L2020 67.1L2018.3 7.5M1953 809.2L1960.2 559.2L1962.3 504.6L1965.6 435.7L1967.6 408.3L1969.4 407.6L1973.3 411.7L1981.4 423L1989 427.7L2000.5 428.5L2007.1 428.5L2012.5 427.7L2015.5 424.7L2017.8 417.8L2021.9 399.2L2023.1 389.2L2024 375.5L2024.9 341L2027.9 200.2L2031.5 67.1L2030.3 7.5M1964 809.6L1971.4 558.9L1973.6 504.3L1977.3 435.5L1979.4 408.2L1981.3 407.4L1985.2 411.6L1993.3 422.9L2000.9 427.7L2012 428.5L2018.5 428.5L2023.8 427.7L2026.8 424.7L2029 417.8L2033.1 399.2L2034.4 389.2L2035.2 375.5L2039.2 200.2L2042.9 67.1L2042.3 7.5M1985.8 816.9L1994.3 538.1L1996.3 490.8L1999.8 431.3L2001.9 407.6L2003.7 406.8L2007.7 411L2015.9 422.5L2023.3 427.3L2033.9 428.1L2040.3 428.1L2046.1 427.3L2049.2 424.4L2051.6 417.7L2053.4 410.6L2055.6 399.2L2056.8 389.2L2057.7 375.5L2061.9 200.2L2066 67.1L2065.1 7.5M1996.4 826.5L2000.1 715.3L2005.2 541.3L2007.2 492.7L2010.5 431.5L2012.5 407.2L2014.3 406.4L2018.3 410.6L2026.5 422L2033.8 426.8L2044.2 427.6L2050.8 427.7L2057.1 426.9L2060.5 424.1L2063 417.6L2064.8 410.6L2066.9 399.2L2068.1 389.2L2069 375.5L2073.4 200.2L2077.7 67.1L2076 7.5M2007.1 836.1L2011 722.4L2016.1 544.4L2018.1 494.6L2021.2 431.8L2023.1 406.8L2024.9 406L2028.9 410.2L2037.1 421.6L2044.3 426.4L2054.5 427.2L2061.2 427.2L2068 426.5L2071.8 423.7L2074.4 417.6L2076.2 410.6L2078.1 399.2L2079.3 389.2L2080.3 375.5L2084.8 200.2L2089.3 67.1L2086.8 7.5M2017.7 845.7L2021.9 729.6L2027.1 547.5L2031.9 432L2033.7 406.4L2035.5 405.6L2039.5 409.8L2047.7 421.2L2054.9 426L2064.8 426.8L2071.6 426.8L2079 426.1L2083 423.4L2085.8 417.5L2087.6 410.6L2090.5 389.2L2091.6 375.5L2096.3 200.2L2100.9 67.1L2097.7 7.5"/>
<path stroke="#000" stroke-width="3.8" d="M1252.7 312.8L1260.7 314.4L1265.4 315.9L1271.7 318.5L1275.5 324.1L1278.9 335.6L1284.2 359.8L1286 362.8L1287.7 356.3L1289.1 347.7L1290.8 332.4L1295.5 246.7L1296.6 248.2L1299.5 312.5L1304 444.3L1309.7 585.9L1312 621L1313.8 624L1316.1 596.5L1320.1 559.1L1321.9 535.1L1327.5 423.3L1328.9 370.8L1330.6 275.2L1333.3 67.1L1336.3 -125.2M1252.7 312.8L1260.7 312.8L1266.3 313.5L1274.8 315.4L1279.8 317.7L1283.8 321.5L1287.6 320.7L1293.3 315L1297.8 312L1303.5 310.1L1308.9 309.4L1316.9 309.4L1321.4 317.6L1324.8 338.6L1327.3 342.4L1330.1 330.9L1332.1 299.4L1334.4 230.6L1336 192L1337.7 162.6L1339.5 177.6L1347.5 367.6L1353.4 485.1L1355.6 519.7L1357.9 542.6L1359.7 535.1L1366 412.7L1367.8 360.1L1371.6 215.2L1375.1 67.1L1374.8 -125.2M1252.7 435.6L1264.6 431.9L1289.6 421.9L1300.5 418.3L1309 416L1340 409.9L1348.1 406.3L1357.2 399.4L1361.9 391.7L1364.8 379.1L1367.3 351.7L1370.7 294.3L1373.2 238.8L1377.9 109.7L1379.9 79.1L1381.7 97.1L1384.3 173.6L1390.1 320.7L1392.4 345.5L1395 324.4L1397.2 324L1400.4 343.9L1402.3 334.1L1405.4 241.8L1409.3 67.1L1410.4 -85.6M1252.7 529.8L1289.5 519.3L1311.5 512.2L1321.1 509.9L1334.2 508L1342.8 505L1351.3 499.3L1357.8 498.5L1365.8 502.3L1373 500.8L1383.3 493.2L1389.6 487.9L1395.3 482.2L1399.3 474.7L1403.9 461.3L1407 445.6L1410.5 418.8L1412.7 385.8L1415 328.5L1421.9 114.3L1424.2 60.8L1426.2 60.8L1429.1 114.3L1436.2 286.8L1438.5 325L1440.5 325L1443.3 286.8L1445.4 249.3L1452.6 67.1L1457.8 -125.2M1249 801.4L1250.3 646.7L1252 558.8L1254.9 527.3L1260.7 535L1264 538.6L1266.9 540.1L1269.3 546.1L1272.8 559.8L1278.8 563.6L1300 556.4L1311.5 553L1331.1 547.9L1340.7 546.4L1354.4 545.2L1365.4 543.3L1379.7 539.5L1388.4 538.6L1403.8 541.1L1448 545.8L1452.5 543.4L1454.8 536.6L1457 525.2L1460.5 503L1463.8 485.6L1469 463.4L1472.3 450.5L1475.8 439.8L1478 426.6L1480.3 403.7L1482.1 375.1L1487.2 265L1488.1 252.2L1490.9 242.6L1492.6 238.5L1494.1 232.4L1498.1 206.6L1499 196.1L1502.2 142.8L1505.7 67.1L1511.2 -125.2M1295.7 881.2L1297.7 761.1L1300.5 703.8L1303 687.3L1312.6 728.8L1320.6 722.8L1337.8 693L1352.4 673.8L1372.3 654.6L1388.1 638.6L1408 616.8L1421.3 601.7L1457.5 557.5L1464.7 549.7L1470.7 544.7L1475.5 538.8L1481.8 528.9L1486.5 524L1492.2 521.5L1495.8 521.9L1499.2 525.6L1501 525.7L1504.2 515.6L1507.1 502L1509.9 491.4L1511 493.2L1516.2 514.5L1521.7 554.7L1523.9 569.5L1526.2 580.2L1528 581.7L1530.3 574.8L1531.8 551.1L1534.7 458.5L1543.1 67.1L1549.8 -125.2M1527 797.2L1528.8 781.4L1530.5 758.5L1535.9 616.4L1538.4 563.9L1543.3 503.9L1547.6 470.9L1548.6 468.1L1550.4 467.3L1552.7 470.4L1556.6 479L1560.1 502.1L1565 552.3L1572.8 646.6L1575.3 655.6L1577.3 625L1578.8 590.5L1583.5 430.8L1584.8 370.8L1589.3 67.1L1594.2 -125.2M1589 824.6L1591.7 701.5L1595.1 579.2L1597.3 516.1L1601.6 450.6L1602.7 446.9L1604.5 446.1L1607.1 448.5L1611.9 455.4L1616.2 462.9L1625.9 482.1L1628.2 487.4L1630.4 483.7L1636.3 456.9L1639.2 441.6L1641.2 425.1L1643.5 398.3L1645.3 354.8L1649.6 200.2L1659.5 -125.2M1635.6 884.6L1639.6 697L1643 563.2L1645.1 498.6L1648.6 441.2L1649.6 436.7L1651.4 435.9L1654.6 441.5L1660.8 456.5L1665.4 463.2L1670.8 465.4L1674.1 464.8L1676.9 461L1684.4 448.8L1687.1 442.1L1689.4 432.5L1690.7 421.3L1691.9 402.2L1693.2 360.1L1701.5 67.1L1709.9 -125.2M1680.1 865.8L1692.3 441.2L1693.8 415.5L1695.6 414.7L1698.3 419L1703.5 430.7L1707.4 436.2L1711.9 438.7L1715.5 442.1L1720.1 448.2L1723.5 447.3L1727.5 438.9L1730 430.2L1737.2 392.9L1739.1 354.8L1741.4 270.7L1748.4 67.1L1754.3 -125.2M1727.1 865.8L1736 505L1738.3 438.5L1739.9 412.1L1741.7 411.3L1744.5 415.8L1749.9 427.8L1755.7 435L1765.1 441.3L1770.7 443.5L1775.6 442.7L1778.1 439L1783.6 404.4L1786.6 376.2L1791.2 266.8L1794.5 200.2L1802.5 67.1L1807.7 -125.2M1783 865.8L1787.1 701.5L1789.3 579.2L1791.5 503.2L1794.5 432.1L1796.5 403.9L1798.3 403.1L1801.1 408.8L1806.5 423.9L1812.6 431.3L1822.9 435.1L1828.8 435.3L1833.3 432.1L1836 426.8L1838.3 416.4L1839.6 406.2L1842.4 373.2L1846.4 266.8L1849.4 200.2L1856.5 67.1L1864 -125.2M1828.7 865.8L1838.9 487.2L1840.9 427.6L1842.4 403.9L1844.2 403.1L1847 408.8L1852.2 423.9L1858.3 430.7L1868.8 432.9L1875.3 433.5L1881.6 432.7L1885.2 426.5L1888.1 411.5L1890.5 403.3L1894 397.6L1896.2 389.8L1898.5 375.6L1899.9 341L1905 67.1L1903.1 7.5M1873.3 865.8L1878.3 697L1883.8 487.2L1885.8 427.6L1887.2 403.9L1889.1 403.1L1893.7 407.8L1903.6 420.4L1911.6 425.5L1933.9 426.6L1937 424.2L1939.3 417.7L1940.9 410.6L1942.6 399.2L1943.4 389.2L1945.7 266.8L1950.4 67.1L1948.1 7.5M1929.3 865.8L1940 488.3L1942.3 431.4L1943.9 408.7L1945.7 407.9L1949.5 412L1957.5 423.1L1965.3 427.7L1977.3 428.5L1984.2 428.5L1990 427.7L1993.1 424.7L1995.4 417.8L1999.5 399.2L2000.7 389.2L2001.6 375.5L2002.5 341L2008.5 67.1L2006.2 7.5M1973.3 865.8L1982.5 563.2L1985.5 488.1L1989.1 430.8L1991.3 408L1993.1 407.2L1997.1 411.4L2005.3 422.9L2012.8 427.7L2023.6 428.5L2029.9 428.5L2035.1 427.7L2038 424.7L2040.3 417.8L2044.3 399.2L2045.6 389.2L2046.4 375.5L2050.4 200.2L2054.4 67.1L2054.3 7.5M2027.3 882.6L2031 787L2040.1 487.7L2042.6 429.2L2044.3 406L2046.2 405.2L2050.1 409.4L2058.3 420.7L2065.4 425.6L2075.1 426.4L2082 426.4L2090 425.7L2094.3 423.1L2097.2 417.4L2099 410.6L2101.8 389.2L2102.9 375.5L2107.8 200.2L2112.6 67.1L2108.5 7.5"/>
</g>
<path fill="none" stroke="#e0161f" stroke-width="3.8" d="M1528.1 584.4L1535.9 572L1543.8 560.6L1551.6 550.1L1559.4 540.4L1567.3 531.5L1575.1 523.2L1582.9 515.6L1590.8 508.6L1598.6 502.2L1606.4 496.2L1614.3 490.7L1622.1 485.6L1630 480.9L1637.8 476.6L1645.6 472.6L1653.5 469L1661.3 465.6L1669.1 462.5L1677 459.6L1684.8 456.9L1692.6 454.5L1700.5 452.2L1708.3 450.1L1716.1 448.2L1724 446.4L1731.8 444.8L1739.6 443.3L1747.5 441.9L1755.3 440.6L1763.1 439.4L1771 438.3L1778.8 437.3L1786.6 436.4L1794.5 435.5L1802.3 434.7L1810.2 434L1818 433.3L1825.8 432.7L1833.7 432.2L1841.5 431.6L1849.3 431.1L1857.2 430.7L1865 430.3L1872.8 429.9L1880.7 429.5L1888.5 429.2L1896.3 428.9L1904.2 428.6L1912 428.4L1919.8 428.2L1927.7 427.9L1935.5 427.7L1943.3 427.6L1951.2 427.5L1959 427.4L1966.8 427.4L1974.7 427.5L1982.5 427.6L1990.4 427.7L1998.2 427.9L2006 428.1L2013.9 428.4L2021.7 428.7L2029.5 429.1L2037.4 429.4L2045.2 429.9L2053 430.4L2060.9 430.9L2068.7 431.4"/>
<path fill="none" stroke="#e0161f" stroke-width="3.8" d="M1528.1 722.9L1535.9 710.5L1543.8 699.1L1551.6 688.6L1559.4 679L1567.3 670L1575.1 661.8L1582.9 654.2L1590.8 647.2L1598.6 640.7L1606.4 634.7L1614.3 629.2L1622.1 624.1L1630 619.5L1637.8 615.1L1645.6 611.2L1653.5 607.5L1661.3 604.1L1669.1 601L1677 598.1L1684.8 595.4L1692.6 593L1700.5 590.7L1708.3 588.6L1716.1 586.7L1724 585L1731.8 583.3L1739.6 581.8L1747.5 580.4L1755.3 579.1L1763.1 577.9L1771 576.9L1778.8 575.8L1786.6 574.9L1794.5 574.1L1802.3 573.3L1810.2 572.5L1818 571.9L1825.8 571.2L1833.7 570.7L1841.5 570.2L1849.3 569.7L1857.2 569.2L1865 568.8L1872.8 568.4L1880.7 568.1L1888.5 567.7L1896.3 567.4L1904.2 567.2L1912 566.9L1919.8 566.7L1927.7 566.5L1935.5 566.3L1943.3 566.1L1951.2 566L1959 566L1966.8 566L1974.7 566L1982.5 566.1L1990.4 566.2L1998.2 566.4L2006 566.7L2013.9 566.9L2021.7 567.2L2029.5 567.6L2037.4 568L2045.2 568.4L2053 568.9L2060.9 569.4L2068.7 569.9"/>
<rect x="1902" y="470" width="151" height="58" fill="#fff"/>
<text x="1910.3" y="513.9" font-size="39.8" word-spacing="3">0.2 e<tspan font-size="24.5" dy="-14.5">2</tspan><tspan dy="14.5" dx="0.5">/</tspan><tspan dx="2">h</tspan></text>
<line x1="2067.0" x2="2067.0" y1="447.2" y2="554.2" stroke="#000" stroke-width="2.3"/>
<path d="M2067.0 435.2 L2073.8 454.7 L2067.0 450.7 L2060.2 454.7 Z" fill="#000"/>
<path d="M2067.0 566.2 L2073.8 546.7 L2067.0 550.7 L2060.2 546.7 Z" fill="#000"/>
<rect x="1262" y="62.4" width="828.6" height="690" fill="none" stroke="#3ec08f" stroke-width="3.2"/>
<g stroke="#000" stroke-width="2.3" fill="none">
<line x1="1235.7" x2="1262" y1="681.26" y2="681.26"/>
<line x1="2091" x2="2120" y1="681.26" y2="681.26"/>
<line x1="1235.7" x2="1262" y1="544.78" y2="544.78"/>
<line x1="2091" x2="2120" y1="544.78" y2="544.78"/>
<line x1="1235.7" x2="1262" y1="408.30" y2="408.30"/>
<line x1="2091" x2="2120" y1="408.30" y2="408.30"/>
<line x1="1235.7" x2="1262" y1="271.82" y2="271.82"/>
<line x1="2091" x2="2120" y1="271.82" y2="271.82"/>
<line x1="1235.7" x2="1262" y1="135.34" y2="135.34"/>
<line x1="2091" x2="2120" y1="135.34" y2="135.34"/>
<line x1="1370.00" x2="1370.00" y1="35" y2="62"/>
<line x1="1370.00" x2="1370.00" y1="753" y2="781.2"/>
<line x1="1574.00" x2="1574.00" y1="35" y2="62"/>
<line x1="1574.00" x2="1574.00" y1="753" y2="781.2"/>
<line x1="1778.00" x2="1778.00" y1="35" y2="62"/>
<line x1="1778.00" x2="1778.00" y1="753" y2="781.2"/>
<line x1="1982.00" x2="1982.00" y1="35" y2="62"/>
<line x1="1982.00" x2="1982.00" y1="753" y2="781.2"/>
</g>
<g text-anchor="end">
<text x="1221" y="694.46">1.6</text>
<text x="1221" y="557.98">1.8</text>
<text x="1221" y="421.50">2.0</text>
<text x="1221" y="285.02">2.2</text>
<text x="1221" y="148.54">2.4</text>
</g>
<g text-anchor="middle">
<text x="1370.00" y="829.6">60</text>
<text x="1574.00" y="829.6">80</text>
<text x="1778.00" y="829.6">100</text>
<text x="1982.00" y="829.6">120</text>
</g>
<text x="1604.5" y="881.8" word-spacing="2.5"><tspan font-style="italic">V</tspan><tspan font-size="26" dy="9.5">sg</tspan><tspan dy="-9.5"> (mV)</tspan></text>
<text transform="translate(1135.5 472) rotate(-90)"><tspan font-style="italic">G</tspan> (e<tspan font-size="26" dy="-13">2</tspan><tspan dy="13">/</tspan><tspan font-style="italic">h</tspan>)</text>
</svg>
</body>
</html>
